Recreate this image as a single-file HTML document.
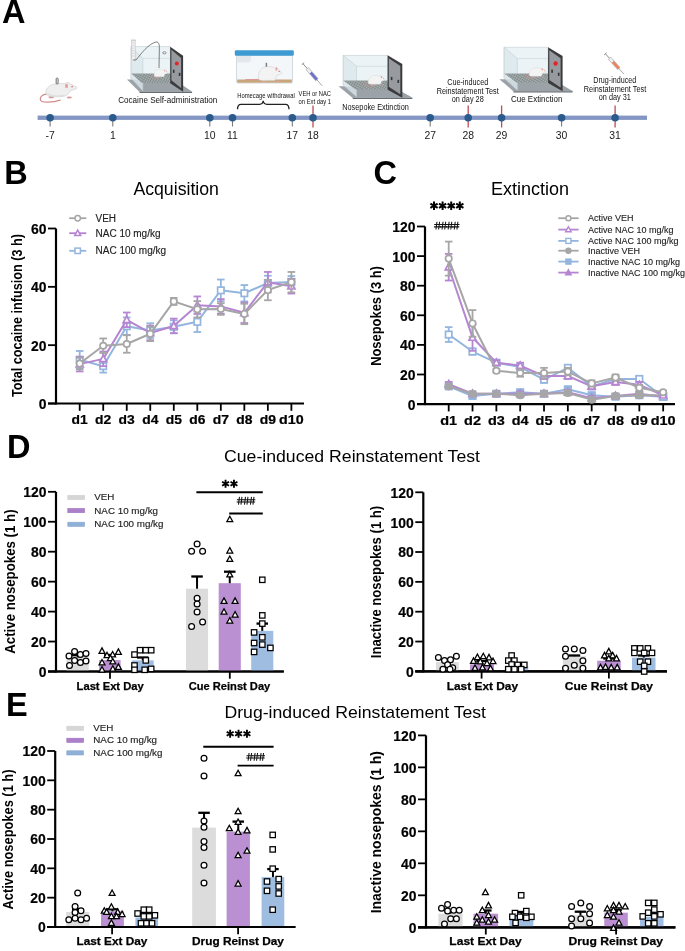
<!DOCTYPE html>
<html><head><meta charset="utf-8"><title>Figure</title>
<style>html,body{margin:0;padding:0;background:#fff;}body{width:685px;height:951px;overflow:hidden;font-family:"Liberation Sans", sans-serif;}svg{display:block;will-change:transform;}</style>
</head><body>
<svg width="685" height="951" viewBox="0 0 685 951" font-family='"Liberation Sans", sans-serif'>
<rect width="685" height="951" fill="#fff"/>
<text x="2.10" y="22.80" font-size="32.5" font-weight="bold" text-anchor="start" fill="#000" >A</text>
<rect x="37.6" y="115.6" width="609.4" height="4.3" fill="#8497c4"/>
<line x1="50.10" y1="118.00" x2="50.10" y2="126.50" stroke="#7a7a7a" stroke-width="1.1" />
<line x1="112.80" y1="118.00" x2="112.80" y2="126.50" stroke="#7a7a7a" stroke-width="1.1" />
<line x1="209.80" y1="118.00" x2="209.80" y2="126.50" stroke="#7a7a7a" stroke-width="1.1" />
<line x1="232.50" y1="118.00" x2="232.50" y2="126.50" stroke="#7a7a7a" stroke-width="1.1" />
<line x1="292.30" y1="118.00" x2="292.30" y2="126.50" stroke="#7a7a7a" stroke-width="1.1" />
<line x1="313.00" y1="105.50" x2="313.00" y2="127.50" stroke="#c24a52" stroke-width="1.3" />
<line x1="430.20" y1="118.00" x2="430.20" y2="126.50" stroke="#7a7a7a" stroke-width="1.1" />
<line x1="468.20" y1="105.50" x2="468.20" y2="127.50" stroke="#c24a52" stroke-width="1.3" />
<line x1="501.60" y1="105.50" x2="501.60" y2="127.50" stroke="#c24a52" stroke-width="1.3" />
<line x1="561.60" y1="118.00" x2="561.60" y2="126.50" stroke="#7a7a7a" stroke-width="1.1" />
<line x1="615.10" y1="105.50" x2="615.10" y2="127.50" stroke="#c24a52" stroke-width="1.3" />
<circle cx="50.10" cy="117.8" r="3.8" fill="#2b5a8c"/>
<text x="50.10" y="139.00" font-size="10.4" font-weight="normal" text-anchor="middle" fill="#1a1a1a" >-7</text>
<circle cx="112.80" cy="117.8" r="3.8" fill="#2b5a8c"/>
<text x="112.80" y="139.00" font-size="10.4" font-weight="normal" text-anchor="middle" fill="#1a1a1a" >1</text>
<circle cx="209.80" cy="117.8" r="3.8" fill="#2b5a8c"/>
<text x="209.80" y="139.00" font-size="10.4" font-weight="normal" text-anchor="middle" fill="#1a1a1a" >10</text>
<circle cx="232.50" cy="117.8" r="3.8" fill="#2b5a8c"/>
<text x="232.50" y="139.00" font-size="10.4" font-weight="normal" text-anchor="middle" fill="#1a1a1a" >11</text>
<circle cx="292.30" cy="117.8" r="3.8" fill="#2b5a8c"/>
<text x="292.30" y="139.00" font-size="10.4" font-weight="normal" text-anchor="middle" fill="#1a1a1a" >17</text>
<circle cx="313.00" cy="117.8" r="3.8" fill="#2b5a8c"/>
<text x="313.00" y="139.00" font-size="10.4" font-weight="normal" text-anchor="middle" fill="#1a1a1a" >18</text>
<circle cx="430.20" cy="117.8" r="3.8" fill="#2b5a8c"/>
<text x="430.20" y="139.00" font-size="10.4" font-weight="normal" text-anchor="middle" fill="#1a1a1a" >27</text>
<circle cx="468.20" cy="117.8" r="3.8" fill="#2b5a8c"/>
<text x="468.20" y="139.00" font-size="10.4" font-weight="normal" text-anchor="middle" fill="#1a1a1a" >28</text>
<circle cx="501.60" cy="117.8" r="3.8" fill="#2b5a8c"/>
<text x="501.60" y="139.00" font-size="10.4" font-weight="normal" text-anchor="middle" fill="#1a1a1a" >29</text>
<circle cx="561.60" cy="117.8" r="3.8" fill="#2b5a8c"/>
<text x="561.60" y="139.00" font-size="10.4" font-weight="normal" text-anchor="middle" fill="#1a1a1a" >30</text>
<circle cx="615.10" cy="117.8" r="3.8" fill="#2b5a8c"/>
<text x="615.10" y="139.00" font-size="10.4" font-weight="normal" text-anchor="middle" fill="#1a1a1a" >31</text>
<defs>
<pattern id="mesh" width="2.2" height="2.2" patternUnits="userSpaceOnUse" patternTransform="rotate(30)">
<rect width="2.2" height="2.2" fill="#838d8d"/>
<path d="M0,0 L2.2,0 M0,0 L0,2.2" stroke="#c9cfcf" stroke-width="0.55"/>
</pattern>
</defs>
<g transform="translate(35.00,70.00) scale(0.0730)">
<path d="M165,330 C100,328 58,375 78,418 C98,452 240,445 345,412" fill="none" stroke="#d48c8c" stroke-width="17" stroke-linecap="round"/>
<ellipse cx="222" cy="372" rx="38" ry="16" fill="#dc9a9a"/>
<ellipse cx="470" cy="376" rx="36" ry="14" fill="#dc9a9a"/>
<path d="M150,305 C148,240 215,195 300,188 C360,184 400,190 420,182 C440,165 470,170 490,195 C520,205 560,222 578,242 C565,262 520,275 480,285 C470,320 440,350 400,360 C330,372 250,370 200,360 C165,350 150,330 150,305 Z" fill="#efefef" stroke="#c9c9c9" stroke-width="8"/>
<path d="M170,320 C200,350 300,360 400,350" fill="none" stroke="#dcdcdc" stroke-width="14"/>
<ellipse cx="432" cy="220" rx="20" ry="30" fill="#e2a0a0"/>
<circle cx="508" cy="228" r="9" fill="#c23b3b"/>
<rect x="290" y="112" width="26" height="78" rx="8" fill="#fff" stroke="#555" stroke-width="12"/>
</g>
<polygon points="127.0,79.5 174.1,79.5 192.3,91.7 139.3,91.7" fill="#9ba2a8"/>
<polygon points="139.3,91.7 192.3,91.7 191.7,93.0 139.7,93.0" fill="#656c72"/>
<rect x="131.1" y="46.7" width="39.1" height="31.5" fill="#e6eff3" fill-opacity="0.75" stroke="#c9d3d8" stroke-width="0.7"/>
<polygon points="131.1,46.7 142.8,58.4 142.8,90.7 131.1,78.2" fill="#dbe7ec" fill-opacity="0.8" stroke="#c3ced4" stroke-width="0.6"/>
<line x1="142.83" y1="58.36" x2="170.20" y2="58.36" stroke="#cdd7dc" stroke-width="0.7" />
<polygon points="131.1,73.5 170.2,73.5 174.9,82.9 142.0,82.9" fill="url(#mesh)"/>
<g transform="translate(146.40,62.90) scale(0.0431,0.0400)">
<path d="M190,300 C120,300 95,360 140,375 C190,390 260,378 310,362" fill="none" stroke="#d88d8d" stroke-width="12" stroke-linecap="round"/>

<ellipse cx="255" cy="358" rx="26" ry="11" fill="#e2a3a3"/>
<ellipse cx="440" cy="360" rx="22" ry="10" fill="#e2a3a3"/>
<path d="M180,320 C175,240 205,175 280,160 C330,150 380,165 410,180 C440,175 470,200 500,245 C480,265 450,270 430,275 C420,300 420,330 400,345 L240,345 C200,345 182,335 180,320 Z" fill="#f3f3f3" stroke="#cdcdcd" stroke-width="7"/>
<ellipse cx="425" cy="190" rx="14" ry="26" fill="#e6a9a9"/>
<circle cx="462" cy="222" r="8" fill="#cc4040"/>

</g>
<polygon points="170.2,46.7 183.1,55.8 183.1,91.7 170.2,83.2" fill="#3b3b3d"/>
<polygon points="171.4,49.7 181.1,58.0 181.1,88.1 171.4,80.2" fill="#979ba0"/>
<circle cx="176.8" cy="63.4" r="2.0" fill="#e0262b"/>
<rect x="172.9" y="69.7" width="1.6" height="3.2" fill="#333"/>
<rect x="178.8" y="72.8" width="1.6" height="3.2" fill="#333"/>
<rect x="131.6" y="40.3" width="3.6" height="19.5" rx="0.8" fill="#f4f4f4" stroke="#b9b9b9" stroke-width="0.6"/>
<line x1="132.2" y1="43.0" x2="134.2" y2="43.0" stroke="#aaa" stroke-width="0.4"/>
<line x1="132.2" y1="45.6" x2="134.2" y2="45.6" stroke="#aaa" stroke-width="0.4"/>
<line x1="132.2" y1="48.2" x2="134.2" y2="48.2" stroke="#aaa" stroke-width="0.4"/>
<line x1="132.2" y1="50.8" x2="134.2" y2="50.8" stroke="#aaa" stroke-width="0.4"/>
<line x1="132.2" y1="53.4" x2="134.2" y2="53.4" stroke="#aaa" stroke-width="0.4"/>
<line x1="132.2" y1="56.0" x2="134.2" y2="56.0" stroke="#aaa" stroke-width="0.4"/>
<rect x="130.9" y="39.6" width="5" height="1.5" fill="#d0d0d0"/>
<path d="M133.5,60 L136,60 C141,54 148,44 156,42 C159.5,41.5 159.5,46 159.3,52 L159,68" fill="none" stroke="#333" stroke-width="0.6"/>
<ellipse cx="164.4" cy="52.8" rx="1.7" ry="1.1" fill="none" stroke="#555" stroke-width="0.6"/>
<text x="118.20" y="102.90" font-size="9" font-weight="normal" text-anchor="start" fill="#111" textLength="99" lengthAdjust="spacingAndGlyphs">Cocaine Self-administration</text>
<rect x="236.5" y="55" width="56" height="28" rx="1.5" fill="#f4f7fa" stroke="#c9d1d8" stroke-width="0.8"/>
<rect x="237.2" y="79.5" width="54.6" height="3.2" fill="#c8a67c"/>
<path d="M236.8,56 L251.5,56 L250.5,61 C250.3,62 249.5,62.4 248.5,62.4 L236.8,62.4 Z" fill="#e3e8ec"/>
<g transform="translate(245.3,54.8) scale(0.0732,0.0744)">
<path d="M190,330 C120,335 60,333 0,334" fill="none" stroke="#d88d8d" stroke-width="12"/>

<ellipse cx="255" cy="358" rx="26" ry="11" fill="#e2a3a3"/>
<ellipse cx="440" cy="360" rx="22" ry="10" fill="#e2a3a3"/>
<path d="M180,320 C175,240 205,175 280,160 C330,150 380,165 410,180 C440,175 470,200 500,245 C480,265 450,270 430,275 C420,300 420,330 400,345 L240,345 C200,345 182,335 180,320 Z" fill="#f3f3f3" stroke="#cdcdcd" stroke-width="7"/>
<ellipse cx="425" cy="190" rx="14" ry="26" fill="#e6a9a9"/>
<circle cx="462" cy="222" r="8" fill="#cc4040"/>

<rect x="278" y="108" width="20" height="52" fill="#7a7a7a"/>
</g>
<rect x="234.8" y="50.2" width="59" height="5.6" rx="1.2" fill="#3e9bd2"/>
<text x="237.30" y="98.20" font-size="7.2" font-weight="normal" text-anchor="start" fill="#111" textLength="57.4" lengthAdjust="spacingAndGlyphs">Homecage withdrawal</text>
<path d="M237.5,109.3 C237.5,105.5 238.5,104.3 241,104.3 L259.5,104.3 C262,104.3 263,103 263.2,100.8 C263.4,103 264.4,104.3 267,104.3 L285.5,104.3 C288,104.3 289,105.5 289,109.3" fill="none" stroke="#222" stroke-width="1.35"/>
<g transform="translate(303.0,63.7) rotate(49.1)"><line x1="0" y1="0" x2="6.5" y2="0" stroke="#888" stroke-width="0.9"/><line x1="0" y1="-1.6" x2="0" y2="1.6" stroke="#888" stroke-width="0.9"/><rect x="6.5" y="-1.6" width="14.7" height="3.2" fill="#eef0f2" stroke="#8a8a8a" stroke-width="0.5"/><rect x="11.7" y="-1.3" width="9.4" height="2.6" fill="#6b6fc9"/><line x1="21.1" y1="0" x2="29.4" y2="0" stroke="#777" stroke-width="0.6"/></g>
<text x="314.80" y="96.00" font-size="7.3" font-weight="normal" text-anchor="middle" fill="#111" textLength="32.4" lengthAdjust="spacingAndGlyphs">VEH or NAC</text>
<text x="314.80" y="103.60" font-size="7.3" font-weight="normal" text-anchor="middle" fill="#111" textLength="32.4" lengthAdjust="spacingAndGlyphs">on Ext day 1</text>
<polygon points="338.5,86.2 392.0,86.2 412.7,97.8 352.5,97.8" fill="#9ba2a8"/>
<polygon points="352.5,97.8 412.7,97.8 412.1,99.1 352.9,99.1" fill="#656c72"/>
<rect x="343.2" y="55.3" width="44.4" height="29.7" fill="#e6eff3" fill-opacity="0.75" stroke="#c9d3d8" stroke-width="0.7"/>
<polygon points="343.2,55.3 356.5,66.3 356.5,96.8 343.2,85.0" fill="#dbe7ec" fill-opacity="0.8" stroke="#c3ced4" stroke-width="0.6"/>
<line x1="356.52" y1="66.29" x2="387.60" y2="66.29" stroke="#cdd7dc" stroke-width="0.7" />
<polygon points="343.2,80.5 387.6,80.5 392.9,89.5 355.6,89.5" fill="url(#mesh)"/>
<g transform="translate(358.40,68.00) scale(0.0542,0.0472)">
<path d="M190,300 C120,300 95,360 140,375 C190,390 260,378 310,362" fill="none" stroke="#d88d8d" stroke-width="12" stroke-linecap="round"/>

<ellipse cx="255" cy="358" rx="26" ry="11" fill="#e2a3a3"/>
<ellipse cx="440" cy="360" rx="22" ry="10" fill="#e2a3a3"/>
<path d="M180,320 C175,240 205,175 280,160 C330,150 380,165 410,180 C440,175 470,200 500,245 C480,265 450,270 430,275 C420,300 420,330 400,345 L240,345 C200,345 182,335 180,320 Z" fill="#f3f3f3" stroke="#cdcdcd" stroke-width="7"/>
<ellipse cx="425" cy="190" rx="14" ry="26" fill="#e6a9a9"/>
<circle cx="462" cy="222" r="8" fill="#cc4040"/>

</g>
<polygon points="387.6,55.3 402.3,63.9 402.3,97.8 387.6,89.8" fill="#3b3b3d"/>
<polygon points="388.8,58.3 400.3,66.1 400.3,94.2 388.8,86.8" fill="#979ba0"/>
<rect x="390.8" y="76.9" width="1.6" height="3.2" fill="#333"/>
<rect x="397.5" y="79.8" width="1.6" height="3.2" fill="#333"/>
<text x="342.30" y="109.70" font-size="9" font-weight="normal" text-anchor="start" fill="#111" textLength="66.5" lengthAdjust="spacingAndGlyphs">Nosepoke Extinction</text>
<text x="467.70" y="85.00" font-size="8.5" font-weight="normal" text-anchor="middle" fill="#111" textLength="41" lengthAdjust="spacingAndGlyphs">Cue-induced</text>
<text x="467.70" y="93.80" font-size="8.5" font-weight="normal" text-anchor="middle" fill="#111" textLength="62" lengthAdjust="spacingAndGlyphs">Reinstatement Test</text>
<text x="467.70" y="102.20" font-size="8.5" font-weight="normal" text-anchor="middle" fill="#111" textLength="32" lengthAdjust="spacingAndGlyphs">on day 28</text>
<polygon points="499.4,79.2 552.5,79.2 573.0,91.2 513.3,91.2" fill="#9ba2a8"/>
<polygon points="513.3,91.2 573.0,91.2 572.4,92.5 513.7,92.5" fill="#656c72"/>
<rect x="504.1" y="47.2" width="44.0" height="30.8" fill="#e6eff3" fill-opacity="0.75" stroke="#c9d3d8" stroke-width="0.7"/>
<polygon points="504.1,47.2 517.3,58.6 517.3,90.2 504.1,78.0" fill="#dbe7ec" fill-opacity="0.8" stroke="#c3ced4" stroke-width="0.6"/>
<line x1="517.30" y1="58.60" x2="548.10" y2="58.60" stroke="#cdd7dc" stroke-width="0.7" />
<polygon points="504.1,73.4 548.1,73.4 553.4,82.6 516.4,82.6" fill="url(#mesh)"/>
<g transform="translate(519.50,60.80) scale(0.0538,0.0450)">
<path d="M190,300 C120,300 95,360 140,375 C190,390 260,378 310,362" fill="none" stroke="#d88d8d" stroke-width="12" stroke-linecap="round"/>

<ellipse cx="255" cy="358" rx="26" ry="11" fill="#e2a3a3"/>
<ellipse cx="440" cy="360" rx="22" ry="10" fill="#e2a3a3"/>
<path d="M180,320 C175,240 205,175 280,160 C330,150 380,165 410,180 C440,175 470,200 500,245 C480,265 450,270 430,275 C420,300 420,330 400,345 L240,345 C200,345 182,335 180,320 Z" fill="#f3f3f3" stroke="#cdcdcd" stroke-width="7"/>
<ellipse cx="425" cy="190" rx="14" ry="26" fill="#e6a9a9"/>
<circle cx="462" cy="222" r="8" fill="#cc4040"/>

</g>
<polygon points="548.1,47.2 562.6,56.1 562.6,91.2 548.1,82.9" fill="#3b3b3d"/>
<polygon points="549.3,50.2 560.6,58.3 560.6,87.6 549.3,79.9" fill="#979ba0"/>
<circle cx="555.6" cy="63.5" r="2.2" fill="#e0262b"/>
<rect x="551.3" y="69.6" width="1.6" height="3.2" fill="#333"/>
<rect x="557.9" y="72.7" width="1.6" height="3.2" fill="#333"/>
<text x="511.00" y="102.40" font-size="9.5" font-weight="normal" text-anchor="start" fill="#111" textLength="51.4" lengthAdjust="spacingAndGlyphs">Cue Extinction</text>
<g transform="translate(605.4,53.8) rotate(47.5)"><line x1="0" y1="0" x2="6.1" y2="0" stroke="#888" stroke-width="0.9"/><line x1="0" y1="-1.6" x2="0" y2="1.6" stroke="#888" stroke-width="0.9"/><rect x="6.1" y="-1.6" width="13.8" height="3.2" fill="#eef0f2" stroke="#8a8a8a" stroke-width="0.5"/><rect x="11.0" y="-1.3" width="8.8" height="2.6" fill="#e9825b"/><line x1="19.8" y1="0" x2="27.5" y2="0" stroke="#777" stroke-width="0.6"/></g>
<text x="614.80" y="83.20" font-size="8.5" font-weight="normal" text-anchor="middle" fill="#111" textLength="43" lengthAdjust="spacingAndGlyphs">Drug-induced</text>
<text x="615.00" y="91.50" font-size="8.5" font-weight="normal" text-anchor="middle" fill="#111" textLength="62.4" lengthAdjust="spacingAndGlyphs">Reinstatement Test</text>
<text x="614.80" y="100.10" font-size="8.5" font-weight="normal" text-anchor="middle" fill="#111" textLength="32" lengthAdjust="spacingAndGlyphs">on day 31</text>
<text x="4.20" y="183.90" font-size="32.5" font-weight="bold" text-anchor="start" fill="#000" >B</text>
<text x="133.40" y="194.80" font-size="17.7" font-weight="normal" text-anchor="start" fill="#000" >Acquisition</text>
<line x1="56.00" y1="228.50" x2="56.00" y2="404.50" stroke="#000" stroke-width="2.2" />
<line x1="48.00" y1="403.50" x2="56.00" y2="403.50" stroke="#000" stroke-width="1.8" />
<text x="46.50" y="408.90" font-size="13.9" font-weight="bold" text-anchor="end" fill="#000" stroke="#000" stroke-width="0.2">0</text>
<line x1="48.00" y1="345.17" x2="56.00" y2="345.17" stroke="#000" stroke-width="1.8" />
<text x="46.50" y="350.57" font-size="13.9" font-weight="bold" text-anchor="end" fill="#000" stroke="#000" stroke-width="0.2">20</text>
<line x1="48.00" y1="286.83" x2="56.00" y2="286.83" stroke="#000" stroke-width="1.8" />
<text x="46.50" y="292.24" font-size="13.9" font-weight="bold" text-anchor="end" fill="#000" stroke="#000" stroke-width="0.2">40</text>
<line x1="48.00" y1="228.50" x2="56.00" y2="228.50" stroke="#000" stroke-width="1.8" />
<text x="46.50" y="233.90" font-size="13.9" font-weight="bold" text-anchor="end" fill="#000" stroke="#000" stroke-width="0.2">60</text>
<line x1="48.00" y1="403.50" x2="304.00" y2="403.50" stroke="#000" stroke-width="2.2" />
<line x1="79.70" y1="403.50" x2="79.70" y2="410.80" stroke="#000" stroke-width="1.8" />
<text x="79.70" y="424.00" font-size="12.2" font-weight="bold" text-anchor="middle" fill="#000" textLength="16.2" lengthAdjust="spacingAndGlyphs" stroke="#000" stroke-width="0.2">d1</text>
<line x1="103.22" y1="403.50" x2="103.22" y2="410.80" stroke="#000" stroke-width="1.8" />
<text x="103.22" y="424.00" font-size="12.2" font-weight="bold" text-anchor="middle" fill="#000" textLength="16.2" lengthAdjust="spacingAndGlyphs" stroke="#000" stroke-width="0.2">d2</text>
<line x1="126.74" y1="403.50" x2="126.74" y2="410.80" stroke="#000" stroke-width="1.8" />
<text x="126.74" y="424.00" font-size="12.2" font-weight="bold" text-anchor="middle" fill="#000" textLength="16.2" lengthAdjust="spacingAndGlyphs" stroke="#000" stroke-width="0.2">d3</text>
<line x1="150.26" y1="403.50" x2="150.26" y2="410.80" stroke="#000" stroke-width="1.8" />
<text x="150.26" y="424.00" font-size="12.2" font-weight="bold" text-anchor="middle" fill="#000" textLength="16.2" lengthAdjust="spacingAndGlyphs" stroke="#000" stroke-width="0.2">d4</text>
<line x1="173.78" y1="403.50" x2="173.78" y2="410.80" stroke="#000" stroke-width="1.8" />
<text x="173.78" y="424.00" font-size="12.2" font-weight="bold" text-anchor="middle" fill="#000" textLength="16.2" lengthAdjust="spacingAndGlyphs" stroke="#000" stroke-width="0.2">d5</text>
<line x1="197.30" y1="403.50" x2="197.30" y2="410.80" stroke="#000" stroke-width="1.8" />
<text x="197.30" y="424.00" font-size="12.2" font-weight="bold" text-anchor="middle" fill="#000" textLength="16.2" lengthAdjust="spacingAndGlyphs" stroke="#000" stroke-width="0.2">d6</text>
<line x1="220.82" y1="403.50" x2="220.82" y2="410.80" stroke="#000" stroke-width="1.8" />
<text x="220.82" y="424.00" font-size="12.2" font-weight="bold" text-anchor="middle" fill="#000" textLength="16.2" lengthAdjust="spacingAndGlyphs" stroke="#000" stroke-width="0.2">d7</text>
<line x1="244.34" y1="403.50" x2="244.34" y2="410.80" stroke="#000" stroke-width="1.8" />
<text x="244.34" y="424.00" font-size="12.2" font-weight="bold" text-anchor="middle" fill="#000" textLength="16.2" lengthAdjust="spacingAndGlyphs" stroke="#000" stroke-width="0.2">d8</text>
<line x1="267.86" y1="403.50" x2="267.86" y2="410.80" stroke="#000" stroke-width="1.8" />
<text x="267.86" y="424.00" font-size="12.2" font-weight="bold" text-anchor="middle" fill="#000" textLength="16.2" lengthAdjust="spacingAndGlyphs" stroke="#000" stroke-width="0.2">d9</text>
<line x1="291.38" y1="403.50" x2="291.38" y2="410.80" stroke="#000" stroke-width="1.8" />
<text x="291.38" y="424.00" font-size="12.2" font-weight="bold" text-anchor="middle" fill="#000" textLength="24.6" lengthAdjust="spacingAndGlyphs" stroke="#000" stroke-width="0.2">d10</text>
<text x="0.00" y="0.00" font-size="14.9" font-weight="bold" text-anchor="middle" fill="#000" transform="translate(22.1,315.5) rotate(-90)" textLength="163" lengthAdjust="spacingAndGlyphs">Total cocaine infusion (3 h)</text>
<line x1="79.70" y1="351.00" x2="79.70" y2="368.50" stroke="#93b5de" stroke-width="1.8" />
<line x1="75.90" y1="351.00" x2="83.50" y2="351.00" stroke="#93b5de" stroke-width="1.8" />
<line x1="75.90" y1="368.50" x2="83.50" y2="368.50" stroke="#93b5de" stroke-width="1.8" />
<line x1="103.22" y1="359.75" x2="103.22" y2="372.58" stroke="#93b5de" stroke-width="1.8" />
<line x1="99.42" y1="359.75" x2="107.02" y2="359.75" stroke="#93b5de" stroke-width="1.8" />
<line x1="99.42" y1="372.58" x2="107.02" y2="372.58" stroke="#93b5de" stroke-width="1.8" />
<line x1="126.74" y1="317.46" x2="126.74" y2="334.96" stroke="#93b5de" stroke-width="1.8" />
<line x1="122.94" y1="317.46" x2="130.54" y2="317.46" stroke="#93b5de" stroke-width="1.8" />
<line x1="122.94" y1="334.96" x2="130.54" y2="334.96" stroke="#93b5de" stroke-width="1.8" />
<line x1="150.26" y1="323.29" x2="150.26" y2="337.88" stroke="#93b5de" stroke-width="1.8" />
<line x1="146.46" y1="323.29" x2="154.06" y2="323.29" stroke="#93b5de" stroke-width="1.8" />
<line x1="146.46" y1="337.88" x2="154.06" y2="337.88" stroke="#93b5de" stroke-width="1.8" />
<line x1="173.78" y1="320.38" x2="173.78" y2="333.21" stroke="#93b5de" stroke-width="1.8" />
<line x1="169.98" y1="320.38" x2="177.58" y2="320.38" stroke="#93b5de" stroke-width="1.8" />
<line x1="169.98" y1="333.21" x2="177.58" y2="333.21" stroke="#93b5de" stroke-width="1.8" />
<line x1="197.30" y1="311.63" x2="197.30" y2="332.04" stroke="#93b5de" stroke-width="1.8" />
<line x1="193.50" y1="311.63" x2="201.10" y2="311.63" stroke="#93b5de" stroke-width="1.8" />
<line x1="193.50" y1="332.04" x2="201.10" y2="332.04" stroke="#93b5de" stroke-width="1.8" />
<line x1="220.82" y1="279.54" x2="220.82" y2="301.13" stroke="#93b5de" stroke-width="1.8" />
<line x1="217.02" y1="279.54" x2="224.62" y2="279.54" stroke="#93b5de" stroke-width="1.8" />
<line x1="217.02" y1="301.13" x2="224.62" y2="301.13" stroke="#93b5de" stroke-width="1.8" />
<line x1="244.34" y1="285.08" x2="244.34" y2="301.42" stroke="#93b5de" stroke-width="1.8" />
<line x1="240.54" y1="285.08" x2="248.14" y2="285.08" stroke="#93b5de" stroke-width="1.8" />
<line x1="240.54" y1="301.42" x2="248.14" y2="301.42" stroke="#93b5de" stroke-width="1.8" />
<line x1="267.86" y1="275.75" x2="267.86" y2="290.33" stroke="#93b5de" stroke-width="1.8" />
<line x1="264.06" y1="275.75" x2="271.66" y2="275.75" stroke="#93b5de" stroke-width="1.8" />
<line x1="264.06" y1="290.33" x2="271.66" y2="290.33" stroke="#93b5de" stroke-width="1.8" />
<line x1="291.38" y1="276.04" x2="291.38" y2="287.71" stroke="#93b5de" stroke-width="1.8" />
<line x1="287.58" y1="276.04" x2="295.18" y2="276.04" stroke="#93b5de" stroke-width="1.8" />
<line x1="287.58" y1="287.71" x2="295.18" y2="287.71" stroke="#93b5de" stroke-width="1.8" />
<polyline points="79.70,359.75 103.22,366.17 126.74,326.21 150.26,330.58 173.78,326.79 197.30,321.83 220.82,290.33 244.34,293.25 267.86,283.04 291.38,281.88" fill="none" stroke="#93b5de" stroke-width="2.0" stroke-linejoin="round"/>
<rect x="76.50" y="356.55" width="6.40" height="6.40" fill="#fff" stroke="#93b5de" stroke-width="1.7"/>
<rect x="100.02" y="362.97" width="6.40" height="6.40" fill="#fff" stroke="#93b5de" stroke-width="1.7"/>
<rect x="123.54" y="323.01" width="6.40" height="6.40" fill="#fff" stroke="#93b5de" stroke-width="1.7"/>
<rect x="147.06" y="327.38" width="6.40" height="6.40" fill="#fff" stroke="#93b5de" stroke-width="1.7"/>
<rect x="170.58" y="323.59" width="6.40" height="6.40" fill="#fff" stroke="#93b5de" stroke-width="1.7"/>
<rect x="194.10" y="318.63" width="6.40" height="6.40" fill="#fff" stroke="#93b5de" stroke-width="1.7"/>
<rect x="217.62" y="287.13" width="6.40" height="6.40" fill="#fff" stroke="#93b5de" stroke-width="1.7"/>
<rect x="241.14" y="290.05" width="6.40" height="6.40" fill="#fff" stroke="#93b5de" stroke-width="1.7"/>
<rect x="264.66" y="279.84" width="6.40" height="6.40" fill="#fff" stroke="#93b5de" stroke-width="1.7"/>
<rect x="288.18" y="278.68" width="6.40" height="6.40" fill="#fff" stroke="#93b5de" stroke-width="1.7"/>
<line x1="79.70" y1="356.83" x2="79.70" y2="371.42" stroke="#b585d2" stroke-width="1.8" />
<line x1="75.90" y1="356.83" x2="83.50" y2="356.83" stroke="#b585d2" stroke-width="1.8" />
<line x1="75.90" y1="371.42" x2="83.50" y2="371.42" stroke="#b585d2" stroke-width="1.8" />
<line x1="103.22" y1="351.58" x2="103.22" y2="366.17" stroke="#b585d2" stroke-width="1.8" />
<line x1="99.42" y1="351.58" x2="107.02" y2="351.58" stroke="#b585d2" stroke-width="1.8" />
<line x1="99.42" y1="366.17" x2="107.02" y2="366.17" stroke="#b585d2" stroke-width="1.8" />
<line x1="126.74" y1="312.50" x2="126.74" y2="327.08" stroke="#b585d2" stroke-width="1.8" />
<line x1="122.94" y1="312.50" x2="130.54" y2="312.50" stroke="#b585d2" stroke-width="1.8" />
<line x1="122.94" y1="327.08" x2="130.54" y2="327.08" stroke="#b585d2" stroke-width="1.8" />
<line x1="150.26" y1="325.62" x2="150.26" y2="340.21" stroke="#b585d2" stroke-width="1.8" />
<line x1="146.46" y1="325.62" x2="154.06" y2="325.62" stroke="#b585d2" stroke-width="1.8" />
<line x1="146.46" y1="340.21" x2="154.06" y2="340.21" stroke="#b585d2" stroke-width="1.8" />
<line x1="173.78" y1="318.62" x2="173.78" y2="333.21" stroke="#b585d2" stroke-width="1.8" />
<line x1="169.98" y1="318.62" x2="177.58" y2="318.62" stroke="#b585d2" stroke-width="1.8" />
<line x1="169.98" y1="333.21" x2="177.58" y2="333.21" stroke="#b585d2" stroke-width="1.8" />
<line x1="197.30" y1="296.46" x2="197.30" y2="313.96" stroke="#b585d2" stroke-width="1.8" />
<line x1="193.50" y1="296.46" x2="201.10" y2="296.46" stroke="#b585d2" stroke-width="1.8" />
<line x1="193.50" y1="313.96" x2="201.10" y2="313.96" stroke="#b585d2" stroke-width="1.8" />
<line x1="220.82" y1="299.08" x2="220.82" y2="313.67" stroke="#b585d2" stroke-width="1.8" />
<line x1="217.02" y1="299.08" x2="224.62" y2="299.08" stroke="#b585d2" stroke-width="1.8" />
<line x1="217.02" y1="313.67" x2="224.62" y2="313.67" stroke="#b585d2" stroke-width="1.8" />
<line x1="244.34" y1="302.58" x2="244.34" y2="323.00" stroke="#b585d2" stroke-width="1.8" />
<line x1="240.54" y1="302.58" x2="248.14" y2="302.58" stroke="#b585d2" stroke-width="1.8" />
<line x1="240.54" y1="323.00" x2="248.14" y2="323.00" stroke="#b585d2" stroke-width="1.8" />
<line x1="267.86" y1="271.96" x2="267.86" y2="292.38" stroke="#b585d2" stroke-width="1.8" />
<line x1="264.06" y1="271.96" x2="271.66" y2="271.96" stroke="#b585d2" stroke-width="1.8" />
<line x1="264.06" y1="292.38" x2="271.66" y2="292.38" stroke="#b585d2" stroke-width="1.8" />
<line x1="291.38" y1="278.96" x2="291.38" y2="293.54" stroke="#b585d2" stroke-width="1.8" />
<line x1="287.58" y1="278.96" x2="295.18" y2="278.96" stroke="#b585d2" stroke-width="1.8" />
<line x1="287.58" y1="293.54" x2="295.18" y2="293.54" stroke="#b585d2" stroke-width="1.8" />
<polyline points="79.70,364.12 103.22,358.88 126.74,319.79 150.26,332.92 173.78,325.92 197.30,305.21 220.82,306.38 244.34,312.79 267.86,282.17 291.38,286.25" fill="none" stroke="#b585d2" stroke-width="2.0" stroke-linejoin="round"/>
<polygon points="79.70,360.44 83.22,366.88 76.18,366.88" fill="#fff" stroke="#b585d2" stroke-width="1.7" stroke-linejoin="miter"/>
<polygon points="103.22,355.19 106.74,361.63 99.70,361.63" fill="#fff" stroke="#b585d2" stroke-width="1.7" stroke-linejoin="miter"/>
<polygon points="126.74,316.11 130.26,322.55 123.22,322.55" fill="#fff" stroke="#b585d2" stroke-width="1.7" stroke-linejoin="miter"/>
<polygon points="150.26,329.24 153.78,335.68 146.74,335.68" fill="#fff" stroke="#b585d2" stroke-width="1.7" stroke-linejoin="miter"/>
<polygon points="173.78,322.24 177.30,328.68 170.26,328.68" fill="#fff" stroke="#b585d2" stroke-width="1.7" stroke-linejoin="miter"/>
<polygon points="197.30,301.53 200.82,307.97 193.78,307.97" fill="#fff" stroke="#b585d2" stroke-width="1.7" stroke-linejoin="miter"/>
<polygon points="220.82,302.69 224.34,309.13 217.30,309.13" fill="#fff" stroke="#b585d2" stroke-width="1.7" stroke-linejoin="miter"/>
<polygon points="244.34,309.11 247.86,315.55 240.82,315.55" fill="#fff" stroke="#b585d2" stroke-width="1.7" stroke-linejoin="miter"/>
<polygon points="267.86,278.49 271.38,284.93 264.34,284.93" fill="#fff" stroke="#b585d2" stroke-width="1.7" stroke-linejoin="miter"/>
<polygon points="291.38,282.57 294.90,289.01 287.86,289.01" fill="#fff" stroke="#b585d2" stroke-width="1.7" stroke-linejoin="miter"/>
<line x1="79.70" y1="357.71" x2="79.70" y2="369.38" stroke="#a6a6a6" stroke-width="1.8" />
<line x1="75.90" y1="357.71" x2="83.50" y2="357.71" stroke="#a6a6a6" stroke-width="1.8" />
<line x1="75.90" y1="369.38" x2="83.50" y2="369.38" stroke="#a6a6a6" stroke-width="1.8" />
<line x1="103.22" y1="338.46" x2="103.22" y2="353.04" stroke="#a6a6a6" stroke-width="1.8" />
<line x1="99.42" y1="338.46" x2="107.02" y2="338.46" stroke="#a6a6a6" stroke-width="1.8" />
<line x1="99.42" y1="353.04" x2="107.02" y2="353.04" stroke="#a6a6a6" stroke-width="1.8" />
<line x1="126.74" y1="335.25" x2="126.74" y2="352.75" stroke="#a6a6a6" stroke-width="1.8" />
<line x1="122.94" y1="335.25" x2="130.54" y2="335.25" stroke="#a6a6a6" stroke-width="1.8" />
<line x1="122.94" y1="352.75" x2="130.54" y2="352.75" stroke="#a6a6a6" stroke-width="1.8" />
<line x1="150.26" y1="326.50" x2="150.26" y2="341.08" stroke="#a6a6a6" stroke-width="1.8" />
<line x1="146.46" y1="326.50" x2="154.06" y2="326.50" stroke="#a6a6a6" stroke-width="1.8" />
<line x1="146.46" y1="341.08" x2="154.06" y2="341.08" stroke="#a6a6a6" stroke-width="1.8" />
<line x1="173.78" y1="297.92" x2="173.78" y2="304.92" stroke="#a6a6a6" stroke-width="1.8" />
<line x1="169.98" y1="297.92" x2="177.58" y2="297.92" stroke="#a6a6a6" stroke-width="1.8" />
<line x1="169.98" y1="304.92" x2="177.58" y2="304.92" stroke="#a6a6a6" stroke-width="1.8" />
<line x1="197.30" y1="301.12" x2="197.30" y2="317.46" stroke="#a6a6a6" stroke-width="1.8" />
<line x1="193.50" y1="301.12" x2="201.10" y2="301.12" stroke="#a6a6a6" stroke-width="1.8" />
<line x1="193.50" y1="317.46" x2="201.10" y2="317.46" stroke="#a6a6a6" stroke-width="1.8" />
<line x1="220.82" y1="303.17" x2="220.82" y2="314.83" stroke="#a6a6a6" stroke-width="1.8" />
<line x1="217.02" y1="303.17" x2="224.62" y2="303.17" stroke="#a6a6a6" stroke-width="1.8" />
<line x1="217.02" y1="314.83" x2="224.62" y2="314.83" stroke="#a6a6a6" stroke-width="1.8" />
<line x1="244.34" y1="303.75" x2="244.34" y2="324.17" stroke="#a6a6a6" stroke-width="1.8" />
<line x1="240.54" y1="303.75" x2="248.14" y2="303.75" stroke="#a6a6a6" stroke-width="1.8" />
<line x1="240.54" y1="324.17" x2="248.14" y2="324.17" stroke="#a6a6a6" stroke-width="1.8" />
<line x1="267.86" y1="279.83" x2="267.86" y2="300.25" stroke="#a6a6a6" stroke-width="1.8" />
<line x1="264.06" y1="279.83" x2="271.66" y2="279.83" stroke="#a6a6a6" stroke-width="1.8" />
<line x1="264.06" y1="300.25" x2="271.66" y2="300.25" stroke="#a6a6a6" stroke-width="1.8" />
<line x1="291.38" y1="271.96" x2="291.38" y2="292.38" stroke="#a6a6a6" stroke-width="1.8" />
<line x1="287.58" y1="271.96" x2="295.18" y2="271.96" stroke="#a6a6a6" stroke-width="1.8" />
<line x1="287.58" y1="292.38" x2="295.18" y2="292.38" stroke="#a6a6a6" stroke-width="1.8" />
<polyline points="79.70,363.54 103.22,345.75 126.74,344.00 150.26,333.79 173.78,301.42 197.30,309.29 220.82,309.00 244.34,313.96 267.86,290.04 291.38,282.17" fill="none" stroke="#a6a6a6" stroke-width="2.0" stroke-linejoin="round"/>
<circle cx="79.70" cy="363.54" r="3.20" fill="#fff" stroke="#a6a6a6" stroke-width="1.7"/>
<circle cx="103.22" cy="345.75" r="3.20" fill="#fff" stroke="#a6a6a6" stroke-width="1.7"/>
<circle cx="126.74" cy="344.00" r="3.20" fill="#fff" stroke="#a6a6a6" stroke-width="1.7"/>
<circle cx="150.26" cy="333.79" r="3.20" fill="#fff" stroke="#a6a6a6" stroke-width="1.7"/>
<circle cx="173.78" cy="301.42" r="3.20" fill="#fff" stroke="#a6a6a6" stroke-width="1.7"/>
<circle cx="197.30" cy="309.29" r="3.20" fill="#fff" stroke="#a6a6a6" stroke-width="1.7"/>
<circle cx="220.82" cy="309.00" r="3.20" fill="#fff" stroke="#a6a6a6" stroke-width="1.7"/>
<circle cx="244.34" cy="313.96" r="3.20" fill="#fff" stroke="#a6a6a6" stroke-width="1.7"/>
<circle cx="267.86" cy="290.04" r="3.20" fill="#fff" stroke="#a6a6a6" stroke-width="1.7"/>
<circle cx="291.38" cy="282.17" r="3.20" fill="#fff" stroke="#a6a6a6" stroke-width="1.7"/>
<line x1="69.20" y1="218.20" x2="86.30" y2="218.20" stroke="#a6a6a6" stroke-width="1.8" />
<circle cx="77.70" cy="218.20" r="2.70" fill="#fff" stroke="#a6a6a6" stroke-width="1.5"/>
<text x="95.50" y="221.80" font-size="10" font-weight="normal" text-anchor="start" fill="#1e1e1e" stroke="#1e1e1e" stroke-width="0.15">VEH</text>
<line x1="69.20" y1="233.20" x2="86.30" y2="233.20" stroke="#b585d2" stroke-width="1.8" />
<polygon points="77.70,230.09 80.67,235.53 74.73,235.53" fill="#fff" stroke="#b585d2" stroke-width="1.5" stroke-linejoin="miter"/>
<text x="95.50" y="236.80" font-size="10" font-weight="normal" text-anchor="start" fill="#1e1e1e" stroke="#1e1e1e" stroke-width="0.15">NAC 10 mg/kg</text>
<line x1="69.20" y1="250.80" x2="86.30" y2="250.80" stroke="#93b5de" stroke-width="1.8" />
<rect x="75.00" y="248.10" width="5.40" height="5.40" fill="#fff" stroke="#93b5de" stroke-width="1.5"/>
<text x="95.50" y="254.40" font-size="10" font-weight="normal" text-anchor="start" fill="#1e1e1e" stroke="#1e1e1e" stroke-width="0.15">NAC 100 mg/kg</text>
<text x="373.50" y="183.50" font-size="32.5" font-weight="bold" text-anchor="start" fill="#000" >C</text>
<text x="491.00" y="194.70" font-size="18" font-weight="normal" text-anchor="start" fill="#000" >Extinction</text>
<line x1="425.00" y1="226.50" x2="425.00" y2="405.10" stroke="#000" stroke-width="2.2" />
<line x1="417.00" y1="404.10" x2="425.00" y2="404.10" stroke="#000" stroke-width="1.8" />
<text x="415.50" y="409.50" font-size="13.9" font-weight="bold" text-anchor="end" fill="#000" stroke="#000" stroke-width="0.2">0</text>
<line x1="417.00" y1="374.50" x2="425.00" y2="374.50" stroke="#000" stroke-width="1.8" />
<text x="415.50" y="379.90" font-size="13.9" font-weight="bold" text-anchor="end" fill="#000" stroke="#000" stroke-width="0.2">20</text>
<line x1="417.00" y1="344.90" x2="425.00" y2="344.90" stroke="#000" stroke-width="1.8" />
<text x="415.50" y="350.30" font-size="13.9" font-weight="bold" text-anchor="end" fill="#000" stroke="#000" stroke-width="0.2">40</text>
<line x1="417.00" y1="315.30" x2="425.00" y2="315.30" stroke="#000" stroke-width="1.8" />
<text x="415.50" y="320.70" font-size="13.9" font-weight="bold" text-anchor="end" fill="#000" stroke="#000" stroke-width="0.2">60</text>
<line x1="417.00" y1="285.70" x2="425.00" y2="285.70" stroke="#000" stroke-width="1.8" />
<text x="415.50" y="291.10" font-size="13.9" font-weight="bold" text-anchor="end" fill="#000" stroke="#000" stroke-width="0.2">80</text>
<line x1="417.00" y1="256.10" x2="425.00" y2="256.10" stroke="#000" stroke-width="1.8" />
<text x="415.50" y="261.50" font-size="13.9" font-weight="bold" text-anchor="end" fill="#000" stroke="#000" stroke-width="0.2">100</text>
<line x1="417.00" y1="226.50" x2="425.00" y2="226.50" stroke="#000" stroke-width="1.8" />
<text x="415.50" y="231.90" font-size="13.9" font-weight="bold" text-anchor="end" fill="#000" stroke="#000" stroke-width="0.2">120</text>
<line x1="417.00" y1="404.10" x2="675.00" y2="404.10" stroke="#000" stroke-width="2.2" />
<line x1="448.70" y1="404.10" x2="448.70" y2="411.40" stroke="#000" stroke-width="1.8" />
<text x="448.70" y="425.00" font-size="12.6" font-weight="bold" text-anchor="middle" fill="#000" textLength="16.9" lengthAdjust="spacingAndGlyphs" stroke="#000" stroke-width="0.2">d1</text>
<line x1="472.53" y1="404.10" x2="472.53" y2="411.40" stroke="#000" stroke-width="1.8" />
<text x="472.53" y="425.00" font-size="12.6" font-weight="bold" text-anchor="middle" fill="#000" textLength="16.9" lengthAdjust="spacingAndGlyphs" stroke="#000" stroke-width="0.2">d2</text>
<line x1="496.36" y1="404.10" x2="496.36" y2="411.40" stroke="#000" stroke-width="1.8" />
<text x="496.36" y="425.00" font-size="12.6" font-weight="bold" text-anchor="middle" fill="#000" textLength="16.9" lengthAdjust="spacingAndGlyphs" stroke="#000" stroke-width="0.2">d3</text>
<line x1="520.19" y1="404.10" x2="520.19" y2="411.40" stroke="#000" stroke-width="1.8" />
<text x="520.19" y="425.00" font-size="12.6" font-weight="bold" text-anchor="middle" fill="#000" textLength="16.9" lengthAdjust="spacingAndGlyphs" stroke="#000" stroke-width="0.2">d4</text>
<line x1="544.02" y1="404.10" x2="544.02" y2="411.40" stroke="#000" stroke-width="1.8" />
<text x="544.02" y="425.00" font-size="12.6" font-weight="bold" text-anchor="middle" fill="#000" textLength="16.9" lengthAdjust="spacingAndGlyphs" stroke="#000" stroke-width="0.2">d5</text>
<line x1="567.85" y1="404.10" x2="567.85" y2="411.40" stroke="#000" stroke-width="1.8" />
<text x="567.85" y="425.00" font-size="12.6" font-weight="bold" text-anchor="middle" fill="#000" textLength="16.9" lengthAdjust="spacingAndGlyphs" stroke="#000" stroke-width="0.2">d6</text>
<line x1="591.68" y1="404.10" x2="591.68" y2="411.40" stroke="#000" stroke-width="1.8" />
<text x="591.68" y="425.00" font-size="12.6" font-weight="bold" text-anchor="middle" fill="#000" textLength="16.9" lengthAdjust="spacingAndGlyphs" stroke="#000" stroke-width="0.2">d7</text>
<line x1="615.51" y1="404.10" x2="615.51" y2="411.40" stroke="#000" stroke-width="1.8" />
<text x="615.51" y="425.00" font-size="12.6" font-weight="bold" text-anchor="middle" fill="#000" textLength="16.9" lengthAdjust="spacingAndGlyphs" stroke="#000" stroke-width="0.2">d8</text>
<line x1="639.34" y1="404.10" x2="639.34" y2="411.40" stroke="#000" stroke-width="1.8" />
<text x="639.34" y="425.00" font-size="12.6" font-weight="bold" text-anchor="middle" fill="#000" textLength="16.9" lengthAdjust="spacingAndGlyphs" stroke="#000" stroke-width="0.2">d9</text>
<line x1="663.17" y1="404.10" x2="663.17" y2="411.40" stroke="#000" stroke-width="1.8" />
<text x="663.17" y="425.00" font-size="12.6" font-weight="bold" text-anchor="middle" fill="#000" textLength="25.0" lengthAdjust="spacingAndGlyphs" stroke="#000" stroke-width="0.2">d10</text>
<text x="0.00" y="0.00" font-size="14.5" font-weight="bold" text-anchor="middle" fill="#000" transform="translate(380.8,316) rotate(-90)" textLength="99.7" lengthAdjust="spacingAndGlyphs">Nosepokes (3 h)</text>
<path d="M434.00,210.00 L434.00,201.60 M430.36,207.90 L437.64,203.70 M437.64,207.90 L430.36,203.70 " stroke="#000" stroke-width="2.0" stroke-linecap="butt" fill="none"/>
<path d="M442.60,210.00 L442.60,201.60 M438.96,207.90 L446.24,203.70 M446.24,207.90 L438.96,203.70 " stroke="#000" stroke-width="2.0" stroke-linecap="butt" fill="none"/>
<path d="M451.20,210.00 L451.20,201.60 M447.56,207.90 L454.84,203.70 M454.84,207.90 L447.56,203.70 " stroke="#000" stroke-width="2.0" stroke-linecap="butt" fill="none"/>
<path d="M459.80,210.00 L459.80,201.60 M456.16,207.90 L463.44,203.70 M463.44,207.90 L456.16,203.70 " stroke="#000" stroke-width="2.0" stroke-linecap="butt" fill="none"/>
<path d="M434.20,224.51 L441.20,224.51 M433.90,226.85 L440.90,226.85 M436.94,221.70 L435.94,229.50 M439.60,221.70 L438.60,229.50 " stroke="#111" stroke-width="1.05" fill="none"/>
<path d="M440.30,224.51 L447.30,224.51 M440.00,226.85 L447.00,226.85 M443.04,221.70 L442.04,229.50 M445.70,221.70 L444.70,229.50 " stroke="#111" stroke-width="1.05" fill="none"/>
<path d="M446.40,224.51 L453.40,224.51 M446.10,226.85 L453.10,226.85 M449.14,221.70 L448.14,229.50 M451.80,221.70 L450.80,229.50 " stroke="#111" stroke-width="1.05" fill="none"/>
<path d="M452.50,224.51 L459.50,224.51 M452.20,226.85 L459.20,226.85 M455.24,221.70 L454.24,229.50 M457.90,221.70 L456.90,229.50 " stroke="#111" stroke-width="1.05" fill="none"/>
<line x1="448.70" y1="384.12" x2="448.70" y2="388.56" stroke="#93b5de" stroke-width="1.8" />
<line x1="444.90" y1="384.12" x2="452.50" y2="384.12" stroke="#93b5de" stroke-width="1.8" />
<line x1="444.90" y1="388.56" x2="452.50" y2="388.56" stroke="#93b5de" stroke-width="1.8" />
<line x1="472.53" y1="393.74" x2="472.53" y2="398.18" stroke="#93b5de" stroke-width="1.8" />
<line x1="468.73" y1="393.74" x2="476.33" y2="393.74" stroke="#93b5de" stroke-width="1.8" />
<line x1="468.73" y1="398.18" x2="476.33" y2="398.18" stroke="#93b5de" stroke-width="1.8" />
<line x1="496.36" y1="391.52" x2="496.36" y2="395.96" stroke="#93b5de" stroke-width="1.8" />
<line x1="492.56" y1="391.52" x2="500.16" y2="391.52" stroke="#93b5de" stroke-width="1.8" />
<line x1="492.56" y1="395.96" x2="500.16" y2="395.96" stroke="#93b5de" stroke-width="1.8" />
<line x1="520.19" y1="390.04" x2="520.19" y2="394.48" stroke="#93b5de" stroke-width="1.8" />
<line x1="516.39" y1="390.04" x2="523.99" y2="390.04" stroke="#93b5de" stroke-width="1.8" />
<line x1="516.39" y1="394.48" x2="523.99" y2="394.48" stroke="#93b5de" stroke-width="1.8" />
<line x1="544.02" y1="391.52" x2="544.02" y2="395.96" stroke="#93b5de" stroke-width="1.8" />
<line x1="540.22" y1="391.52" x2="547.82" y2="391.52" stroke="#93b5de" stroke-width="1.8" />
<line x1="540.22" y1="395.96" x2="547.82" y2="395.96" stroke="#93b5de" stroke-width="1.8" />
<line x1="567.85" y1="387.08" x2="567.85" y2="391.52" stroke="#93b5de" stroke-width="1.8" />
<line x1="564.05" y1="387.08" x2="571.65" y2="387.08" stroke="#93b5de" stroke-width="1.8" />
<line x1="564.05" y1="391.52" x2="571.65" y2="391.52" stroke="#93b5de" stroke-width="1.8" />
<line x1="591.68" y1="393.00" x2="591.68" y2="397.44" stroke="#93b5de" stroke-width="1.8" />
<line x1="587.88" y1="393.00" x2="595.48" y2="393.00" stroke="#93b5de" stroke-width="1.8" />
<line x1="587.88" y1="397.44" x2="595.48" y2="397.44" stroke="#93b5de" stroke-width="1.8" />
<line x1="615.51" y1="394.48" x2="615.51" y2="398.92" stroke="#93b5de" stroke-width="1.8" />
<line x1="611.71" y1="394.48" x2="619.31" y2="394.48" stroke="#93b5de" stroke-width="1.8" />
<line x1="611.71" y1="398.92" x2="619.31" y2="398.92" stroke="#93b5de" stroke-width="1.8" />
<line x1="639.34" y1="393.00" x2="639.34" y2="397.44" stroke="#93b5de" stroke-width="1.8" />
<line x1="635.54" y1="393.00" x2="643.14" y2="393.00" stroke="#93b5de" stroke-width="1.8" />
<line x1="635.54" y1="397.44" x2="643.14" y2="397.44" stroke="#93b5de" stroke-width="1.8" />
<line x1="663.17" y1="394.48" x2="663.17" y2="398.92" stroke="#93b5de" stroke-width="1.8" />
<line x1="659.37" y1="394.48" x2="666.97" y2="394.48" stroke="#93b5de" stroke-width="1.8" />
<line x1="659.37" y1="398.92" x2="666.97" y2="398.92" stroke="#93b5de" stroke-width="1.8" />
<polyline points="448.70,386.34 472.53,395.96 496.36,393.74 520.19,392.26 544.02,393.74 567.85,389.30 591.68,395.22 615.51,396.70 639.34,395.22 663.17,396.70" fill="none" stroke="#93b5de" stroke-width="2.0" stroke-linejoin="round"/>
<rect x="445.50" y="383.14" width="6.40" height="6.40" fill="#93b5de" stroke="#93b5de" stroke-width="1.7"/>
<rect x="469.33" y="392.76" width="6.40" height="6.40" fill="#93b5de" stroke="#93b5de" stroke-width="1.7"/>
<rect x="493.16" y="390.54" width="6.40" height="6.40" fill="#93b5de" stroke="#93b5de" stroke-width="1.7"/>
<rect x="516.99" y="389.06" width="6.40" height="6.40" fill="#93b5de" stroke="#93b5de" stroke-width="1.7"/>
<rect x="540.82" y="390.54" width="6.40" height="6.40" fill="#93b5de" stroke="#93b5de" stroke-width="1.7"/>
<rect x="564.65" y="386.10" width="6.40" height="6.40" fill="#93b5de" stroke="#93b5de" stroke-width="1.7"/>
<rect x="588.48" y="392.02" width="6.40" height="6.40" fill="#93b5de" stroke="#93b5de" stroke-width="1.7"/>
<rect x="612.31" y="393.50" width="6.40" height="6.40" fill="#93b5de" stroke="#93b5de" stroke-width="1.7"/>
<rect x="636.14" y="392.02" width="6.40" height="6.40" fill="#93b5de" stroke="#93b5de" stroke-width="1.7"/>
<rect x="659.97" y="393.50" width="6.40" height="6.40" fill="#93b5de" stroke="#93b5de" stroke-width="1.7"/>
<line x1="448.70" y1="381.90" x2="448.70" y2="386.34" stroke="#b585d2" stroke-width="1.8" />
<line x1="444.90" y1="381.90" x2="452.50" y2="381.90" stroke="#b585d2" stroke-width="1.8" />
<line x1="444.90" y1="386.34" x2="452.50" y2="386.34" stroke="#b585d2" stroke-width="1.8" />
<line x1="472.53" y1="391.52" x2="472.53" y2="395.96" stroke="#b585d2" stroke-width="1.8" />
<line x1="468.73" y1="391.52" x2="476.33" y2="391.52" stroke="#b585d2" stroke-width="1.8" />
<line x1="468.73" y1="395.96" x2="476.33" y2="395.96" stroke="#b585d2" stroke-width="1.8" />
<line x1="496.36" y1="391.52" x2="496.36" y2="395.96" stroke="#b585d2" stroke-width="1.8" />
<line x1="492.56" y1="391.52" x2="500.16" y2="391.52" stroke="#b585d2" stroke-width="1.8" />
<line x1="492.56" y1="395.96" x2="500.16" y2="395.96" stroke="#b585d2" stroke-width="1.8" />
<line x1="520.19" y1="391.52" x2="520.19" y2="395.96" stroke="#b585d2" stroke-width="1.8" />
<line x1="516.39" y1="391.52" x2="523.99" y2="391.52" stroke="#b585d2" stroke-width="1.8" />
<line x1="516.39" y1="395.96" x2="523.99" y2="395.96" stroke="#b585d2" stroke-width="1.8" />
<line x1="544.02" y1="391.52" x2="544.02" y2="395.96" stroke="#b585d2" stroke-width="1.8" />
<line x1="540.22" y1="391.52" x2="547.82" y2="391.52" stroke="#b585d2" stroke-width="1.8" />
<line x1="540.22" y1="395.96" x2="547.82" y2="395.96" stroke="#b585d2" stroke-width="1.8" />
<line x1="567.85" y1="390.04" x2="567.85" y2="394.48" stroke="#b585d2" stroke-width="1.8" />
<line x1="564.05" y1="390.04" x2="571.65" y2="390.04" stroke="#b585d2" stroke-width="1.8" />
<line x1="564.05" y1="394.48" x2="571.65" y2="394.48" stroke="#b585d2" stroke-width="1.8" />
<line x1="591.68" y1="395.96" x2="591.68" y2="400.40" stroke="#b585d2" stroke-width="1.8" />
<line x1="587.88" y1="395.96" x2="595.48" y2="395.96" stroke="#b585d2" stroke-width="1.8" />
<line x1="587.88" y1="400.40" x2="595.48" y2="400.40" stroke="#b585d2" stroke-width="1.8" />
<line x1="615.51" y1="393.74" x2="615.51" y2="398.18" stroke="#b585d2" stroke-width="1.8" />
<line x1="611.71" y1="393.74" x2="619.31" y2="393.74" stroke="#b585d2" stroke-width="1.8" />
<line x1="611.71" y1="398.18" x2="619.31" y2="398.18" stroke="#b585d2" stroke-width="1.8" />
<line x1="639.34" y1="391.52" x2="639.34" y2="395.96" stroke="#b585d2" stroke-width="1.8" />
<line x1="635.54" y1="391.52" x2="643.14" y2="391.52" stroke="#b585d2" stroke-width="1.8" />
<line x1="635.54" y1="395.96" x2="643.14" y2="395.96" stroke="#b585d2" stroke-width="1.8" />
<line x1="663.17" y1="394.48" x2="663.17" y2="398.92" stroke="#b585d2" stroke-width="1.8" />
<line x1="659.37" y1="394.48" x2="666.97" y2="394.48" stroke="#b585d2" stroke-width="1.8" />
<line x1="659.37" y1="398.92" x2="666.97" y2="398.92" stroke="#b585d2" stroke-width="1.8" />
<polyline points="448.70,384.12 472.53,393.74 496.36,393.74 520.19,393.74 544.02,393.74 567.85,392.26 591.68,398.18 615.51,395.96 639.34,393.74 663.17,396.70" fill="none" stroke="#b585d2" stroke-width="2.0" stroke-linejoin="round"/>
<polygon points="448.70,380.44 452.22,386.88 445.18,386.88" fill="#b585d2" stroke="#b585d2" stroke-width="1.7" stroke-linejoin="miter"/>
<polygon points="472.53,390.06 476.05,396.50 469.01,396.50" fill="#b585d2" stroke="#b585d2" stroke-width="1.7" stroke-linejoin="miter"/>
<polygon points="496.36,390.06 499.88,396.50 492.84,396.50" fill="#b585d2" stroke="#b585d2" stroke-width="1.7" stroke-linejoin="miter"/>
<polygon points="520.19,390.06 523.71,396.50 516.67,396.50" fill="#b585d2" stroke="#b585d2" stroke-width="1.7" stroke-linejoin="miter"/>
<polygon points="544.02,390.06 547.54,396.50 540.50,396.50" fill="#b585d2" stroke="#b585d2" stroke-width="1.7" stroke-linejoin="miter"/>
<polygon points="567.85,388.58 571.37,395.02 564.33,395.02" fill="#b585d2" stroke="#b585d2" stroke-width="1.7" stroke-linejoin="miter"/>
<polygon points="591.68,394.50 595.20,400.94 588.16,400.94" fill="#b585d2" stroke="#b585d2" stroke-width="1.7" stroke-linejoin="miter"/>
<polygon points="615.51,392.28 619.03,398.72 611.99,398.72" fill="#b585d2" stroke="#b585d2" stroke-width="1.7" stroke-linejoin="miter"/>
<polygon points="639.34,390.06 642.86,396.50 635.82,396.50" fill="#b585d2" stroke="#b585d2" stroke-width="1.7" stroke-linejoin="miter"/>
<polygon points="663.17,393.02 666.69,399.46 659.65,399.46" fill="#b585d2" stroke="#b585d2" stroke-width="1.7" stroke-linejoin="miter"/>
<line x1="448.70" y1="384.12" x2="448.70" y2="388.56" stroke="#a6a6a6" stroke-width="1.8" />
<line x1="444.90" y1="384.12" x2="452.50" y2="384.12" stroke="#a6a6a6" stroke-width="1.8" />
<line x1="444.90" y1="388.56" x2="452.50" y2="388.56" stroke="#a6a6a6" stroke-width="1.8" />
<line x1="472.53" y1="391.52" x2="472.53" y2="395.96" stroke="#a6a6a6" stroke-width="1.8" />
<line x1="468.73" y1="391.52" x2="476.33" y2="391.52" stroke="#a6a6a6" stroke-width="1.8" />
<line x1="468.73" y1="395.96" x2="476.33" y2="395.96" stroke="#a6a6a6" stroke-width="1.8" />
<line x1="496.36" y1="391.52" x2="496.36" y2="395.96" stroke="#a6a6a6" stroke-width="1.8" />
<line x1="492.56" y1="391.52" x2="500.16" y2="391.52" stroke="#a6a6a6" stroke-width="1.8" />
<line x1="492.56" y1="395.96" x2="500.16" y2="395.96" stroke="#a6a6a6" stroke-width="1.8" />
<line x1="520.19" y1="393.00" x2="520.19" y2="397.44" stroke="#a6a6a6" stroke-width="1.8" />
<line x1="516.39" y1="393.00" x2="523.99" y2="393.00" stroke="#a6a6a6" stroke-width="1.8" />
<line x1="516.39" y1="397.44" x2="523.99" y2="397.44" stroke="#a6a6a6" stroke-width="1.8" />
<line x1="544.02" y1="391.52" x2="544.02" y2="395.96" stroke="#a6a6a6" stroke-width="1.8" />
<line x1="540.22" y1="391.52" x2="547.82" y2="391.52" stroke="#a6a6a6" stroke-width="1.8" />
<line x1="540.22" y1="395.96" x2="547.82" y2="395.96" stroke="#a6a6a6" stroke-width="1.8" />
<line x1="567.85" y1="390.78" x2="567.85" y2="395.22" stroke="#a6a6a6" stroke-width="1.8" />
<line x1="564.05" y1="390.78" x2="571.65" y2="390.78" stroke="#a6a6a6" stroke-width="1.8" />
<line x1="564.05" y1="395.22" x2="571.65" y2="395.22" stroke="#a6a6a6" stroke-width="1.8" />
<line x1="591.68" y1="397.44" x2="591.68" y2="401.88" stroke="#a6a6a6" stroke-width="1.8" />
<line x1="587.88" y1="397.44" x2="595.48" y2="397.44" stroke="#a6a6a6" stroke-width="1.8" />
<line x1="587.88" y1="401.88" x2="595.48" y2="401.88" stroke="#a6a6a6" stroke-width="1.8" />
<line x1="615.51" y1="393.74" x2="615.51" y2="398.18" stroke="#a6a6a6" stroke-width="1.8" />
<line x1="611.71" y1="393.74" x2="619.31" y2="393.74" stroke="#a6a6a6" stroke-width="1.8" />
<line x1="611.71" y1="398.18" x2="619.31" y2="398.18" stroke="#a6a6a6" stroke-width="1.8" />
<line x1="639.34" y1="393.00" x2="639.34" y2="397.44" stroke="#a6a6a6" stroke-width="1.8" />
<line x1="635.54" y1="393.00" x2="643.14" y2="393.00" stroke="#a6a6a6" stroke-width="1.8" />
<line x1="635.54" y1="397.44" x2="643.14" y2="397.44" stroke="#a6a6a6" stroke-width="1.8" />
<line x1="663.17" y1="393.00" x2="663.17" y2="397.44" stroke="#a6a6a6" stroke-width="1.8" />
<line x1="659.37" y1="393.00" x2="666.97" y2="393.00" stroke="#a6a6a6" stroke-width="1.8" />
<line x1="659.37" y1="397.44" x2="666.97" y2="397.44" stroke="#a6a6a6" stroke-width="1.8" />
<polyline points="448.70,386.34 472.53,393.74 496.36,393.74 520.19,395.22 544.02,393.74 567.85,393.00 591.68,399.66 615.51,395.96 639.34,395.22 663.17,395.22" fill="none" stroke="#a6a6a6" stroke-width="2.0" stroke-linejoin="round"/>
<circle cx="448.70" cy="386.34" r="3.20" fill="#a6a6a6" stroke="#a6a6a6" stroke-width="1.7"/>
<circle cx="472.53" cy="393.74" r="3.20" fill="#a6a6a6" stroke="#a6a6a6" stroke-width="1.7"/>
<circle cx="496.36" cy="393.74" r="3.20" fill="#a6a6a6" stroke="#a6a6a6" stroke-width="1.7"/>
<circle cx="520.19" cy="395.22" r="3.20" fill="#a6a6a6" stroke="#a6a6a6" stroke-width="1.7"/>
<circle cx="544.02" cy="393.74" r="3.20" fill="#a6a6a6" stroke="#a6a6a6" stroke-width="1.7"/>
<circle cx="567.85" cy="393.00" r="3.20" fill="#a6a6a6" stroke="#a6a6a6" stroke-width="1.7"/>
<circle cx="591.68" cy="399.66" r="3.20" fill="#a6a6a6" stroke="#a6a6a6" stroke-width="1.7"/>
<circle cx="615.51" cy="395.96" r="3.20" fill="#a6a6a6" stroke="#a6a6a6" stroke-width="1.7"/>
<circle cx="639.34" cy="395.22" r="3.20" fill="#a6a6a6" stroke="#a6a6a6" stroke-width="1.7"/>
<circle cx="663.17" cy="395.22" r="3.20" fill="#a6a6a6" stroke="#a6a6a6" stroke-width="1.7"/>
<line x1="448.70" y1="327.14" x2="448.70" y2="341.94" stroke="#93b5de" stroke-width="1.8" />
<line x1="444.90" y1="327.14" x2="452.50" y2="327.14" stroke="#93b5de" stroke-width="1.8" />
<line x1="444.90" y1="341.94" x2="452.50" y2="341.94" stroke="#93b5de" stroke-width="1.8" />
<line x1="472.53" y1="348.60" x2="472.53" y2="354.52" stroke="#93b5de" stroke-width="1.8" />
<line x1="468.73" y1="348.60" x2="476.33" y2="348.60" stroke="#93b5de" stroke-width="1.8" />
<line x1="468.73" y1="354.52" x2="476.33" y2="354.52" stroke="#93b5de" stroke-width="1.8" />
<line x1="496.36" y1="360.44" x2="496.36" y2="364.88" stroke="#93b5de" stroke-width="1.8" />
<line x1="492.56" y1="360.44" x2="500.16" y2="360.44" stroke="#93b5de" stroke-width="1.8" />
<line x1="492.56" y1="364.88" x2="500.16" y2="364.88" stroke="#93b5de" stroke-width="1.8" />
<line x1="520.19" y1="364.14" x2="520.19" y2="370.06" stroke="#93b5de" stroke-width="1.8" />
<line x1="516.39" y1="364.14" x2="523.99" y2="364.14" stroke="#93b5de" stroke-width="1.8" />
<line x1="516.39" y1="370.06" x2="523.99" y2="370.06" stroke="#93b5de" stroke-width="1.8" />
<line x1="544.02" y1="376.72" x2="544.02" y2="382.64" stroke="#93b5de" stroke-width="1.8" />
<line x1="540.22" y1="376.72" x2="547.82" y2="376.72" stroke="#93b5de" stroke-width="1.8" />
<line x1="540.22" y1="382.64" x2="547.82" y2="382.64" stroke="#93b5de" stroke-width="1.8" />
<line x1="567.85" y1="364.88" x2="567.85" y2="370.80" stroke="#93b5de" stroke-width="1.8" />
<line x1="564.05" y1="364.88" x2="571.65" y2="364.88" stroke="#93b5de" stroke-width="1.8" />
<line x1="564.05" y1="370.80" x2="571.65" y2="370.80" stroke="#93b5de" stroke-width="1.8" />
<line x1="591.68" y1="384.12" x2="591.68" y2="388.56" stroke="#93b5de" stroke-width="1.8" />
<line x1="587.88" y1="384.12" x2="595.48" y2="384.12" stroke="#93b5de" stroke-width="1.8" />
<line x1="587.88" y1="388.56" x2="595.48" y2="388.56" stroke="#93b5de" stroke-width="1.8" />
<line x1="615.51" y1="376.72" x2="615.51" y2="381.16" stroke="#93b5de" stroke-width="1.8" />
<line x1="611.71" y1="376.72" x2="619.31" y2="376.72" stroke="#93b5de" stroke-width="1.8" />
<line x1="611.71" y1="381.16" x2="619.31" y2="381.16" stroke="#93b5de" stroke-width="1.8" />
<line x1="639.34" y1="376.72" x2="639.34" y2="381.16" stroke="#93b5de" stroke-width="1.8" />
<line x1="635.54" y1="376.72" x2="643.14" y2="376.72" stroke="#93b5de" stroke-width="1.8" />
<line x1="635.54" y1="381.16" x2="643.14" y2="381.16" stroke="#93b5de" stroke-width="1.8" />
<line x1="663.17" y1="395.22" x2="663.17" y2="398.18" stroke="#93b5de" stroke-width="1.8" />
<line x1="659.37" y1="395.22" x2="666.97" y2="395.22" stroke="#93b5de" stroke-width="1.8" />
<line x1="659.37" y1="398.18" x2="666.97" y2="398.18" stroke="#93b5de" stroke-width="1.8" />
<polyline points="448.70,334.54 472.53,351.56 496.36,362.66 520.19,367.10 544.02,379.68 567.85,367.84 591.68,386.34 615.51,378.94 639.34,378.94 663.17,396.70" fill="none" stroke="#93b5de" stroke-width="2.0" stroke-linejoin="round"/>
<rect x="445.50" y="331.34" width="6.40" height="6.40" fill="#fff" stroke="#93b5de" stroke-width="1.7"/>
<rect x="469.33" y="348.36" width="6.40" height="6.40" fill="#fff" stroke="#93b5de" stroke-width="1.7"/>
<rect x="493.16" y="359.46" width="6.40" height="6.40" fill="#fff" stroke="#93b5de" stroke-width="1.7"/>
<rect x="516.99" y="363.90" width="6.40" height="6.40" fill="#fff" stroke="#93b5de" stroke-width="1.7"/>
<rect x="540.82" y="376.48" width="6.40" height="6.40" fill="#fff" stroke="#93b5de" stroke-width="1.7"/>
<rect x="564.65" y="364.64" width="6.40" height="6.40" fill="#fff" stroke="#93b5de" stroke-width="1.7"/>
<rect x="588.48" y="383.14" width="6.40" height="6.40" fill="#fff" stroke="#93b5de" stroke-width="1.7"/>
<rect x="612.31" y="375.74" width="6.40" height="6.40" fill="#fff" stroke="#93b5de" stroke-width="1.7"/>
<rect x="636.14" y="375.74" width="6.40" height="6.40" fill="#fff" stroke="#93b5de" stroke-width="1.7"/>
<rect x="659.97" y="393.50" width="6.40" height="6.40" fill="#fff" stroke="#93b5de" stroke-width="1.7"/>
<line x1="448.70" y1="253.88" x2="448.70" y2="280.52" stroke="#b585d2" stroke-width="1.8" />
<line x1="444.90" y1="253.88" x2="452.50" y2="253.88" stroke="#b585d2" stroke-width="1.8" />
<line x1="444.90" y1="280.52" x2="452.50" y2="280.52" stroke="#b585d2" stroke-width="1.8" />
<line x1="472.53" y1="324.18" x2="472.53" y2="350.82" stroke="#b585d2" stroke-width="1.8" />
<line x1="468.73" y1="324.18" x2="476.33" y2="324.18" stroke="#b585d2" stroke-width="1.8" />
<line x1="468.73" y1="350.82" x2="476.33" y2="350.82" stroke="#b585d2" stroke-width="1.8" />
<line x1="496.36" y1="360.44" x2="496.36" y2="364.88" stroke="#b585d2" stroke-width="1.8" />
<line x1="492.56" y1="360.44" x2="500.16" y2="360.44" stroke="#b585d2" stroke-width="1.8" />
<line x1="492.56" y1="364.88" x2="500.16" y2="364.88" stroke="#b585d2" stroke-width="1.8" />
<line x1="520.19" y1="362.66" x2="520.19" y2="368.58" stroke="#b585d2" stroke-width="1.8" />
<line x1="516.39" y1="362.66" x2="523.99" y2="362.66" stroke="#b585d2" stroke-width="1.8" />
<line x1="516.39" y1="368.58" x2="523.99" y2="368.58" stroke="#b585d2" stroke-width="1.8" />
<line x1="544.02" y1="373.02" x2="544.02" y2="378.94" stroke="#b585d2" stroke-width="1.8" />
<line x1="540.22" y1="373.02" x2="547.82" y2="373.02" stroke="#b585d2" stroke-width="1.8" />
<line x1="540.22" y1="378.94" x2="547.82" y2="378.94" stroke="#b585d2" stroke-width="1.8" />
<line x1="567.85" y1="373.02" x2="567.85" y2="378.94" stroke="#b585d2" stroke-width="1.8" />
<line x1="564.05" y1="373.02" x2="571.65" y2="373.02" stroke="#b585d2" stroke-width="1.8" />
<line x1="564.05" y1="378.94" x2="571.65" y2="378.94" stroke="#b585d2" stroke-width="1.8" />
<line x1="591.68" y1="383.38" x2="591.68" y2="389.30" stroke="#b585d2" stroke-width="1.8" />
<line x1="587.88" y1="383.38" x2="595.48" y2="383.38" stroke="#b585d2" stroke-width="1.8" />
<line x1="587.88" y1="389.30" x2="595.48" y2="389.30" stroke="#b585d2" stroke-width="1.8" />
<line x1="615.51" y1="378.94" x2="615.51" y2="384.86" stroke="#b585d2" stroke-width="1.8" />
<line x1="611.71" y1="378.94" x2="619.31" y2="378.94" stroke="#b585d2" stroke-width="1.8" />
<line x1="611.71" y1="384.86" x2="619.31" y2="384.86" stroke="#b585d2" stroke-width="1.8" />
<line x1="639.34" y1="381.90" x2="639.34" y2="387.82" stroke="#b585d2" stroke-width="1.8" />
<line x1="635.54" y1="381.90" x2="643.14" y2="381.90" stroke="#b585d2" stroke-width="1.8" />
<line x1="635.54" y1="387.82" x2="643.14" y2="387.82" stroke="#b585d2" stroke-width="1.8" />
<line x1="663.17" y1="393.74" x2="663.17" y2="396.70" stroke="#b585d2" stroke-width="1.8" />
<line x1="659.37" y1="393.74" x2="666.97" y2="393.74" stroke="#b585d2" stroke-width="1.8" />
<line x1="659.37" y1="396.70" x2="666.97" y2="396.70" stroke="#b585d2" stroke-width="1.8" />
<polyline points="448.70,267.20 472.53,337.50 496.36,362.66 520.19,365.62 544.02,375.98 567.85,375.98 591.68,386.34 615.51,381.90 639.34,384.86 663.17,395.22" fill="none" stroke="#b585d2" stroke-width="2.0" stroke-linejoin="round"/>
<polygon points="448.70,263.52 452.22,269.96 445.18,269.96" fill="#fff" stroke="#b585d2" stroke-width="1.7" stroke-linejoin="miter"/>
<polygon points="472.53,333.82 476.05,340.26 469.01,340.26" fill="#fff" stroke="#b585d2" stroke-width="1.7" stroke-linejoin="miter"/>
<polygon points="496.36,358.98 499.88,365.42 492.84,365.42" fill="#fff" stroke="#b585d2" stroke-width="1.7" stroke-linejoin="miter"/>
<polygon points="520.19,361.94 523.71,368.38 516.67,368.38" fill="#fff" stroke="#b585d2" stroke-width="1.7" stroke-linejoin="miter"/>
<polygon points="544.02,372.30 547.54,378.74 540.50,378.74" fill="#fff" stroke="#b585d2" stroke-width="1.7" stroke-linejoin="miter"/>
<polygon points="567.85,372.30 571.37,378.74 564.33,378.74" fill="#fff" stroke="#b585d2" stroke-width="1.7" stroke-linejoin="miter"/>
<polygon points="591.68,382.66 595.20,389.10 588.16,389.10" fill="#fff" stroke="#b585d2" stroke-width="1.7" stroke-linejoin="miter"/>
<polygon points="615.51,378.22 619.03,384.66 611.99,384.66" fill="#fff" stroke="#b585d2" stroke-width="1.7" stroke-linejoin="miter"/>
<polygon points="639.34,381.18 642.86,387.62 635.82,387.62" fill="#fff" stroke="#b585d2" stroke-width="1.7" stroke-linejoin="miter"/>
<polygon points="663.17,391.54 666.69,397.98 659.65,397.98" fill="#fff" stroke="#b585d2" stroke-width="1.7" stroke-linejoin="miter"/>
<line x1="448.70" y1="241.60" x2="448.70" y2="275.64" stroke="#a6a6a6" stroke-width="1.8" />
<line x1="444.90" y1="241.60" x2="452.50" y2="241.60" stroke="#a6a6a6" stroke-width="1.8" />
<line x1="444.90" y1="275.64" x2="452.50" y2="275.64" stroke="#a6a6a6" stroke-width="1.8" />
<line x1="472.53" y1="310.12" x2="472.53" y2="336.76" stroke="#a6a6a6" stroke-width="1.8" />
<line x1="468.73" y1="310.12" x2="476.33" y2="310.12" stroke="#a6a6a6" stroke-width="1.8" />
<line x1="468.73" y1="336.76" x2="476.33" y2="336.76" stroke="#a6a6a6" stroke-width="1.8" />
<line x1="496.36" y1="369.02" x2="496.36" y2="372.58" stroke="#a6a6a6" stroke-width="1.8" />
<line x1="492.56" y1="369.02" x2="500.16" y2="369.02" stroke="#a6a6a6" stroke-width="1.8" />
<line x1="492.56" y1="372.58" x2="500.16" y2="372.58" stroke="#a6a6a6" stroke-width="1.8" />
<line x1="520.19" y1="369.32" x2="520.19" y2="376.72" stroke="#a6a6a6" stroke-width="1.8" />
<line x1="516.39" y1="369.32" x2="523.99" y2="369.32" stroke="#a6a6a6" stroke-width="1.8" />
<line x1="516.39" y1="376.72" x2="523.99" y2="376.72" stroke="#a6a6a6" stroke-width="1.8" />
<line x1="544.02" y1="367.84" x2="544.02" y2="378.20" stroke="#a6a6a6" stroke-width="1.8" />
<line x1="540.22" y1="367.84" x2="547.82" y2="367.84" stroke="#a6a6a6" stroke-width="1.8" />
<line x1="540.22" y1="378.20" x2="547.82" y2="378.20" stroke="#a6a6a6" stroke-width="1.8" />
<line x1="567.85" y1="367.84" x2="567.85" y2="375.24" stroke="#a6a6a6" stroke-width="1.8" />
<line x1="564.05" y1="367.84" x2="571.65" y2="367.84" stroke="#a6a6a6" stroke-width="1.8" />
<line x1="564.05" y1="375.24" x2="571.65" y2="375.24" stroke="#a6a6a6" stroke-width="1.8" />
<line x1="591.68" y1="380.42" x2="591.68" y2="386.34" stroke="#a6a6a6" stroke-width="1.8" />
<line x1="587.88" y1="380.42" x2="595.48" y2="380.42" stroke="#a6a6a6" stroke-width="1.8" />
<line x1="587.88" y1="386.34" x2="595.48" y2="386.34" stroke="#a6a6a6" stroke-width="1.8" />
<line x1="615.51" y1="374.50" x2="615.51" y2="380.42" stroke="#a6a6a6" stroke-width="1.8" />
<line x1="611.71" y1="374.50" x2="619.31" y2="374.50" stroke="#a6a6a6" stroke-width="1.8" />
<line x1="611.71" y1="380.42" x2="619.31" y2="380.42" stroke="#a6a6a6" stroke-width="1.8" />
<line x1="639.34" y1="384.86" x2="639.34" y2="390.78" stroke="#a6a6a6" stroke-width="1.8" />
<line x1="635.54" y1="384.86" x2="643.14" y2="384.86" stroke="#a6a6a6" stroke-width="1.8" />
<line x1="635.54" y1="390.78" x2="643.14" y2="390.78" stroke="#a6a6a6" stroke-width="1.8" />
<line x1="663.17" y1="390.78" x2="663.17" y2="393.74" stroke="#a6a6a6" stroke-width="1.8" />
<line x1="659.37" y1="390.78" x2="666.97" y2="390.78" stroke="#a6a6a6" stroke-width="1.8" />
<line x1="659.37" y1="393.74" x2="666.97" y2="393.74" stroke="#a6a6a6" stroke-width="1.8" />
<polyline points="448.70,258.62 472.53,323.44 496.36,370.80 520.19,373.02 544.02,373.02 567.85,371.54 591.68,383.38 615.51,377.46 639.34,387.82 663.17,392.26" fill="none" stroke="#a6a6a6" stroke-width="2.0" stroke-linejoin="round"/>
<circle cx="448.70" cy="258.62" r="3.20" fill="#fff" stroke="#a6a6a6" stroke-width="1.7"/>
<circle cx="472.53" cy="323.44" r="3.20" fill="#fff" stroke="#a6a6a6" stroke-width="1.7"/>
<circle cx="496.36" cy="370.80" r="3.20" fill="#fff" stroke="#a6a6a6" stroke-width="1.7"/>
<circle cx="520.19" cy="373.02" r="3.20" fill="#fff" stroke="#a6a6a6" stroke-width="1.7"/>
<circle cx="544.02" cy="373.02" r="3.20" fill="#fff" stroke="#a6a6a6" stroke-width="1.7"/>
<circle cx="567.85" cy="371.54" r="3.20" fill="#fff" stroke="#a6a6a6" stroke-width="1.7"/>
<circle cx="591.68" cy="383.38" r="3.20" fill="#fff" stroke="#a6a6a6" stroke-width="1.7"/>
<circle cx="615.51" cy="377.46" r="3.20" fill="#fff" stroke="#a6a6a6" stroke-width="1.7"/>
<circle cx="639.34" cy="387.82" r="3.20" fill="#fff" stroke="#a6a6a6" stroke-width="1.7"/>
<circle cx="663.17" cy="392.26" r="3.20" fill="#fff" stroke="#a6a6a6" stroke-width="1.7"/>
<line x1="558.30" y1="218.20" x2="578.60" y2="218.20" stroke="#a6a6a6" stroke-width="1.8" />
<circle cx="568.40" cy="218.20" r="2.50" fill="#fff" stroke="#a6a6a6" stroke-width="1.4"/>
<text x="588.00" y="221.40" font-size="9" font-weight="normal" text-anchor="start" fill="#1e1e1e" stroke="#1e1e1e" stroke-width="0.12">Active VEH</text>
<line x1="558.30" y1="229.60" x2="578.60" y2="229.60" stroke="#b585d2" stroke-width="1.8" />
<polygon points="568.40,226.72 571.15,231.76 565.65,231.76" fill="#fff" stroke="#b585d2" stroke-width="1.4" stroke-linejoin="miter"/>
<text x="588.00" y="232.80" font-size="9" font-weight="normal" text-anchor="start" fill="#1e1e1e" stroke="#1e1e1e" stroke-width="0.12">Active NAC 10 mg/kg</text>
<line x1="558.30" y1="240.90" x2="578.60" y2="240.90" stroke="#93b5de" stroke-width="1.8" />
<rect x="565.90" y="238.40" width="5.00" height="5.00" fill="#fff" stroke="#93b5de" stroke-width="1.4"/>
<text x="588.00" y="244.10" font-size="9" font-weight="normal" text-anchor="start" fill="#1e1e1e" stroke="#1e1e1e" stroke-width="0.12">Active NAC 100 mg/kg</text>
<line x1="558.30" y1="250.70" x2="578.60" y2="250.70" stroke="#a6a6a6" stroke-width="1.8" />
<circle cx="568.40" cy="250.70" r="2.50" fill="#a6a6a6" stroke="#a6a6a6" stroke-width="1.4"/>
<text x="588.00" y="253.90" font-size="9" font-weight="normal" text-anchor="start" fill="#1e1e1e" stroke="#1e1e1e" stroke-width="0.12">Inactive VEH</text>
<line x1="558.30" y1="261.60" x2="578.60" y2="261.60" stroke="#93b5de" stroke-width="1.8" />
<rect x="565.90" y="259.10" width="5.00" height="5.00" fill="#93b5de" stroke="#93b5de" stroke-width="1.4"/>
<text x="588.00" y="264.80" font-size="9" font-weight="normal" text-anchor="start" fill="#1e1e1e" stroke="#1e1e1e" stroke-width="0.12">Inactive NAC 10 mg/kg</text>
<line x1="558.30" y1="272.60" x2="578.60" y2="272.60" stroke="#b585d2" stroke-width="1.8" />
<polygon points="568.40,269.73 571.15,274.76 565.65,274.76" fill="#b585d2" stroke="#b585d2" stroke-width="1.4" stroke-linejoin="miter"/>
<text x="588.00" y="275.80" font-size="9" font-weight="normal" text-anchor="start" fill="#1e1e1e" stroke="#1e1e1e" stroke-width="0.12">Inactive NAC 100 mg/kg</text>
<text x="7.00" y="458.00" font-size="32.5" font-weight="bold" text-anchor="start" fill="#000" >D</text>
<text x="224.00" y="462.40" font-size="16.6" font-weight="normal" text-anchor="start" fill="#000" textLength="256" lengthAdjust="spacingAndGlyphs">Cue-induced Reinstatement Test</text>
<line x1="56.00" y1="491.80" x2="56.00" y2="672.50" stroke="#000" stroke-width="2.2" />
<line x1="48.00" y1="671.50" x2="56.00" y2="671.50" stroke="#000" stroke-width="1.8" />
<text x="46.50" y="676.90" font-size="13.9" font-weight="bold" text-anchor="end" fill="#000" stroke="#000" stroke-width="0.2">0</text>
<line x1="48.00" y1="641.55" x2="56.00" y2="641.55" stroke="#000" stroke-width="1.8" />
<text x="46.50" y="646.95" font-size="13.9" font-weight="bold" text-anchor="end" fill="#000" stroke="#000" stroke-width="0.2">20</text>
<line x1="48.00" y1="611.60" x2="56.00" y2="611.60" stroke="#000" stroke-width="1.8" />
<text x="46.50" y="617.00" font-size="13.9" font-weight="bold" text-anchor="end" fill="#000" stroke="#000" stroke-width="0.2">40</text>
<line x1="48.00" y1="581.65" x2="56.00" y2="581.65" stroke="#000" stroke-width="1.8" />
<text x="46.50" y="587.05" font-size="13.9" font-weight="bold" text-anchor="end" fill="#000" stroke="#000" stroke-width="0.2">60</text>
<line x1="48.00" y1="551.70" x2="56.00" y2="551.70" stroke="#000" stroke-width="1.8" />
<text x="46.50" y="557.10" font-size="13.9" font-weight="bold" text-anchor="end" fill="#000" stroke="#000" stroke-width="0.2">80</text>
<line x1="48.00" y1="521.75" x2="56.00" y2="521.75" stroke="#000" stroke-width="1.8" />
<text x="46.50" y="527.15" font-size="13.9" font-weight="bold" text-anchor="end" fill="#000" stroke="#000" stroke-width="0.2">100</text>
<line x1="48.00" y1="491.80" x2="56.00" y2="491.80" stroke="#000" stroke-width="1.8" />
<text x="46.50" y="497.20" font-size="13.9" font-weight="bold" text-anchor="end" fill="#000" stroke="#000" stroke-width="0.2">120</text>
<line x1="48.00" y1="671.50" x2="283.80" y2="671.50" stroke="#000" stroke-width="2.2" />
<text x="0.00" y="0.00" font-size="14.0" font-weight="bold" text-anchor="middle" fill="#000" transform="translate(15.0,581.6) rotate(-90)" textLength="144.4" lengthAdjust="spacingAndGlyphs">Active nosepokes (1 h)</text>
<rect x="67.8" y="495.4" width="16.8" height="4.2" fill="#d6d6d6" stroke="#cfcfcf" stroke-width="0.6"/>
<text x="94.30" y="500.40" font-size="9.8" font-weight="normal" text-anchor="start" fill="#1e1e1e" stroke="#1e1e1e" stroke-width="0.15">VEH</text>
<rect x="67.8" y="508.5" width="16.8" height="4.2" fill="#ab7fc9" stroke="#9f70c0" stroke-width="0.6"/>
<text x="94.30" y="513.50" font-size="9.8" font-weight="normal" text-anchor="start" fill="#1e1e1e" stroke="#1e1e1e" stroke-width="0.15">NAC 10 mg/kg</text>
<rect x="67.8" y="522.2" width="16.8" height="4.2" fill="#8fb0d7" stroke="#85a7d0" stroke-width="0.6"/>
<text x="94.30" y="527.20" font-size="9.8" font-weight="normal" text-anchor="start" fill="#1e1e1e" stroke="#1e1e1e" stroke-width="0.15">NAC 100 mg/kg</text>
<rect x="66.60" y="657.50" width="22.20" height="14.00" fill="#dcdcdc"/>
<rect x="99.10" y="660.10" width="21.50" height="11.40" fill="#ba90d2"/>
<rect x="131.80" y="660.40" width="21.90" height="11.10" fill="#9fbde0"/>
<rect x="186.00" y="588.70" width="22.10" height="82.80" fill="#dcdcdc"/>
<rect x="218.70" y="583.20" width="22.10" height="88.30" fill="#ba90d2"/>
<rect x="251.20" y="630.90" width="22.10" height="40.60" fill="#9fbde0"/>
<line x1="48.00" y1="671.50" x2="283.80" y2="671.50" stroke="#000" stroke-width="2.2" />
<line x1="77.70" y1="657.50" x2="77.70" y2="655.20" stroke="#000" stroke-width="2.0" />
<line x1="71.95" y1="655.20" x2="83.45" y2="655.20" stroke="#000" stroke-width="2.3" />
<circle cx="74.60" cy="651.40" r="2.90" fill="#fff" stroke="#000" stroke-width="1.25"/>
<circle cx="80.40" cy="654.60" r="2.90" fill="#fff" stroke="#000" stroke-width="1.25"/>
<circle cx="86.00" cy="653.40" r="2.90" fill="#fff" stroke="#000" stroke-width="1.25"/>
<circle cx="69.00" cy="656.00" r="2.90" fill="#fff" stroke="#000" stroke-width="1.25"/>
<circle cx="74.60" cy="660.40" r="2.90" fill="#fff" stroke="#000" stroke-width="1.25"/>
<circle cx="80.40" cy="662.60" r="2.90" fill="#fff" stroke="#000" stroke-width="1.25"/>
<circle cx="86.00" cy="660.90" r="2.90" fill="#fff" stroke="#000" stroke-width="1.25"/>
<circle cx="69.50" cy="665.50" r="2.90" fill="#fff" stroke="#000" stroke-width="1.25"/>
<line x1="109.85" y1="660.10" x2="109.85" y2="655.00" stroke="#000" stroke-width="2.0" />
<line x1="104.10" y1="655.00" x2="115.60" y2="655.00" stroke="#000" stroke-width="2.3" />
<polygon points="102.00,647.89 104.97,653.33 99.03,653.33" fill="#fff" stroke="#000" stroke-width="1.25" stroke-linejoin="miter"/>
<polygon points="118.40,648.89 121.37,654.33 115.43,654.33" fill="#fff" stroke="#000" stroke-width="1.25" stroke-linejoin="miter"/>
<polygon points="107.00,652.19 109.97,657.63 104.03,657.63" fill="#fff" stroke="#000" stroke-width="1.25" stroke-linejoin="miter"/>
<polygon points="112.60,651.50 115.57,656.93 109.63,656.93" fill="#fff" stroke="#000" stroke-width="1.25" stroke-linejoin="miter"/>
<polygon points="110.40,655.10 113.37,660.53 107.43,660.53" fill="#fff" stroke="#000" stroke-width="1.25" stroke-linejoin="miter"/>
<polygon points="102.00,659.50 104.97,664.93 99.03,664.93" fill="#fff" stroke="#000" stroke-width="1.25" stroke-linejoin="miter"/>
<polygon points="112.80,658.50 115.77,663.93 109.83,663.93" fill="#fff" stroke="#000" stroke-width="1.25" stroke-linejoin="miter"/>
<polygon points="102.00,666.60 104.97,672.03 99.03,672.03" fill="#fff" stroke="#000" stroke-width="1.25" stroke-linejoin="miter"/>
<polygon points="112.80,665.69 115.77,671.13 109.83,671.13" fill="#fff" stroke="#000" stroke-width="1.25" stroke-linejoin="miter"/>
<polygon points="118.40,663.89 121.37,669.33 115.43,669.33" fill="#fff" stroke="#000" stroke-width="1.25" stroke-linejoin="miter"/>
<line x1="142.75" y1="660.40" x2="142.75" y2="657.50" stroke="#000" stroke-width="2.0" />
<line x1="137.00" y1="657.50" x2="148.50" y2="657.50" stroke="#000" stroke-width="2.3" />
<rect x="137.30" y="647.50" width="5.40" height="5.40" fill="#fff" stroke="#000" stroke-width="1.25"/>
<rect x="143.10" y="647.50" width="5.40" height="5.40" fill="#fff" stroke="#000" stroke-width="1.25"/>
<rect x="148.50" y="647.50" width="5.40" height="5.40" fill="#fff" stroke="#000" stroke-width="1.25"/>
<rect x="131.80" y="651.90" width="5.40" height="5.40" fill="#fff" stroke="#000" stroke-width="1.25"/>
<rect x="143.10" y="657.70" width="5.40" height="5.40" fill="#fff" stroke="#000" stroke-width="1.25"/>
<rect x="131.80" y="662.80" width="5.40" height="5.40" fill="#fff" stroke="#000" stroke-width="1.25"/>
<rect x="131.80" y="667.10" width="5.40" height="5.40" fill="#fff" stroke="#000" stroke-width="1.25"/>
<rect x="142.00" y="667.10" width="5.40" height="5.40" fill="#fff" stroke="#000" stroke-width="1.25"/>
<rect x="148.50" y="666.20" width="5.40" height="5.40" fill="#fff" stroke="#000" stroke-width="1.25"/>
<line x1="197.05" y1="588.70" x2="197.05" y2="576.50" stroke="#000" stroke-width="2.0" />
<line x1="191.30" y1="576.50" x2="202.80" y2="576.50" stroke="#000" stroke-width="2.3" />
<circle cx="197.10" cy="544.10" r="2.90" fill="#fff" stroke="#000" stroke-width="1.25"/>
<circle cx="191.60" cy="551.30" r="2.90" fill="#fff" stroke="#000" stroke-width="1.25"/>
<circle cx="202.60" cy="551.30" r="2.90" fill="#fff" stroke="#000" stroke-width="1.25"/>
<circle cx="197.10" cy="598.20" r="2.90" fill="#fff" stroke="#000" stroke-width="1.25"/>
<circle cx="197.10" cy="604.10" r="2.90" fill="#fff" stroke="#000" stroke-width="1.25"/>
<circle cx="197.10" cy="611.90" r="2.90" fill="#fff" stroke="#000" stroke-width="1.25"/>
<circle cx="202.60" cy="622.00" r="2.90" fill="#fff" stroke="#000" stroke-width="1.25"/>
<circle cx="191.60" cy="626.50" r="2.90" fill="#fff" stroke="#000" stroke-width="1.25"/>
<line x1="229.75" y1="583.20" x2="229.75" y2="571.70" stroke="#000" stroke-width="2.0" />
<line x1="224.00" y1="571.70" x2="235.50" y2="571.70" stroke="#000" stroke-width="2.3" />
<polygon points="229.80,516.19 232.77,521.63 226.83,521.63" fill="#fff" stroke="#000" stroke-width="1.25" stroke-linejoin="miter"/>
<polygon points="229.80,547.60 232.77,553.03 226.83,553.03" fill="#fff" stroke="#000" stroke-width="1.25" stroke-linejoin="miter"/>
<polygon points="229.80,556.00 232.77,561.43 226.83,561.43" fill="#fff" stroke="#000" stroke-width="1.25" stroke-linejoin="miter"/>
<polygon points="229.80,571.39 232.77,576.83 226.83,576.83" fill="#fff" stroke="#000" stroke-width="1.25" stroke-linejoin="miter"/>
<polygon points="224.00,597.89 226.97,603.33 221.03,603.33" fill="#fff" stroke="#000" stroke-width="1.25" stroke-linejoin="miter"/>
<polygon points="235.10,597.89 238.07,603.33 232.13,603.33" fill="#fff" stroke="#000" stroke-width="1.25" stroke-linejoin="miter"/>
<polygon points="224.00,608.79 226.97,614.23 221.03,614.23" fill="#fff" stroke="#000" stroke-width="1.25" stroke-linejoin="miter"/>
<polygon points="235.10,611.60 238.07,617.03 232.13,617.03" fill="#fff" stroke="#000" stroke-width="1.25" stroke-linejoin="miter"/>
<polygon points="229.80,617.60 232.77,623.03 226.83,623.03" fill="#fff" stroke="#000" stroke-width="1.25" stroke-linejoin="miter"/>
<line x1="262.25" y1="630.90" x2="262.25" y2="623.60" stroke="#000" stroke-width="2.0" />
<line x1="256.50" y1="623.60" x2="268.00" y2="623.60" stroke="#000" stroke-width="2.3" />
<rect x="259.60" y="577.10" width="5.40" height="5.40" fill="#fff" stroke="#000" stroke-width="1.25"/>
<rect x="259.60" y="612.70" width="5.40" height="5.40" fill="#fff" stroke="#000" stroke-width="1.25"/>
<rect x="259.60" y="620.90" width="5.40" height="5.40" fill="#fff" stroke="#000" stroke-width="1.25"/>
<rect x="251.40" y="629.70" width="5.40" height="5.40" fill="#fff" stroke="#000" stroke-width="1.25"/>
<rect x="259.60" y="634.60" width="5.40" height="5.40" fill="#fff" stroke="#000" stroke-width="1.25"/>
<rect x="251.40" y="640.30" width="5.40" height="5.40" fill="#fff" stroke="#000" stroke-width="1.25"/>
<rect x="259.60" y="641.90" width="5.40" height="5.40" fill="#fff" stroke="#000" stroke-width="1.25"/>
<rect x="267.70" y="645.20" width="5.40" height="5.40" fill="#fff" stroke="#000" stroke-width="1.25"/>
<rect x="251.40" y="649.20" width="5.40" height="5.40" fill="#fff" stroke="#000" stroke-width="1.25"/>
<line x1="110.00" y1="671.50" x2="110.00" y2="678.70" stroke="#000" stroke-width="1.8" />
<text x="110.15" y="690.00" font-size="11.0" font-weight="bold" text-anchor="middle" fill="#000" textLength="67.1" lengthAdjust="spacingAndGlyphs" stroke="#000" stroke-width="0.25">Last Ext Day</text>
<line x1="229.80" y1="671.50" x2="229.80" y2="678.70" stroke="#000" stroke-width="1.8" />
<text x="229.50" y="690.00" font-size="11.0" font-weight="bold" text-anchor="middle" fill="#000" textLength="81.5" lengthAdjust="spacingAndGlyphs" stroke="#000" stroke-width="0.25">Cue Reinst Day</text>
<path d="M225.55,487.80 L225.55,479.80 M222.09,485.80 L229.01,481.80 M229.01,485.80 L222.09,481.80 " stroke="#000" stroke-width="1.9" stroke-linecap="butt" fill="none"/>
<path d="M233.95,487.80 L233.95,479.80 M230.49,485.80 L237.41,481.80 M237.41,485.80 L230.49,481.80 " stroke="#000" stroke-width="1.9" stroke-linecap="butt" fill="none"/>
<line x1="196.40" y1="492.20" x2="262.80" y2="492.20" stroke="#000" stroke-width="1.9" />
<path d="M236.90,499.67 L243.40,499.67 M236.60,501.98 L243.10,501.98 M239.48,496.90 L238.48,504.60 M241.95,496.90 L240.95,504.60 " stroke="#111" stroke-width="1.05" fill="none"/>
<path d="M242.90,499.67 L249.40,499.67 M242.60,501.98 L249.10,501.98 M245.48,496.90 L244.48,504.60 M247.95,496.90 L246.95,504.60 " stroke="#111" stroke-width="1.05" fill="none"/>
<path d="M248.90,499.67 L255.40,499.67 M248.60,501.98 L255.10,501.98 M251.48,496.90 L250.48,504.60 M253.95,496.90 L252.95,504.60 " stroke="#111" stroke-width="1.05" fill="none"/>
<line x1="229.20" y1="513.50" x2="262.80" y2="513.50" stroke="#000" stroke-width="1.9" />
<line x1="423.30" y1="492.30" x2="423.30" y2="672.40" stroke="#000" stroke-width="2.2" />
<line x1="415.30" y1="671.40" x2="423.30" y2="671.40" stroke="#000" stroke-width="1.8" />
<text x="413.80" y="676.80" font-size="13.9" font-weight="bold" text-anchor="end" fill="#000" stroke="#000" stroke-width="0.2">0</text>
<line x1="415.30" y1="641.55" x2="423.30" y2="641.55" stroke="#000" stroke-width="1.8" />
<text x="413.80" y="646.95" font-size="13.9" font-weight="bold" text-anchor="end" fill="#000" stroke="#000" stroke-width="0.2">20</text>
<line x1="415.30" y1="611.70" x2="423.30" y2="611.70" stroke="#000" stroke-width="1.8" />
<text x="413.80" y="617.10" font-size="13.9" font-weight="bold" text-anchor="end" fill="#000" stroke="#000" stroke-width="0.2">40</text>
<line x1="415.30" y1="581.85" x2="423.30" y2="581.85" stroke="#000" stroke-width="1.8" />
<text x="413.80" y="587.25" font-size="13.9" font-weight="bold" text-anchor="end" fill="#000" stroke="#000" stroke-width="0.2">60</text>
<line x1="415.30" y1="552.00" x2="423.30" y2="552.00" stroke="#000" stroke-width="1.8" />
<text x="413.80" y="557.40" font-size="13.9" font-weight="bold" text-anchor="end" fill="#000" stroke="#000" stroke-width="0.2">80</text>
<line x1="415.30" y1="522.15" x2="423.30" y2="522.15" stroke="#000" stroke-width="1.8" />
<text x="413.80" y="527.55" font-size="13.9" font-weight="bold" text-anchor="end" fill="#000" stroke="#000" stroke-width="0.2">100</text>
<line x1="415.30" y1="492.30" x2="423.30" y2="492.30" stroke="#000" stroke-width="1.8" />
<text x="413.80" y="497.70" font-size="13.9" font-weight="bold" text-anchor="end" fill="#000" stroke="#000" stroke-width="0.2">120</text>
<line x1="415.30" y1="671.40" x2="667.00" y2="671.40" stroke="#000" stroke-width="2.2" />
<text x="0.00" y="0.00" font-size="14.0" font-weight="bold" text-anchor="middle" fill="#000" transform="translate(381.0,582) rotate(-90)" textLength="152.4" lengthAdjust="spacingAndGlyphs">Inactive nosepokes (1 h)</text>
<rect x="436.00" y="662.10" width="22.80" height="9.30" fill="#dcdcdc"/>
<rect x="470.00" y="664.30" width="24.00" height="7.10" fill="#ba90d2"/>
<rect x="504.80" y="666.40" width="23.50" height="5.00" fill="#9fbde0"/>
<rect x="562.90" y="656.20" width="23.10" height="15.20" fill="#dcdcdc"/>
<rect x="597.20" y="660.70" width="23.50" height="10.70" fill="#ba90d2"/>
<rect x="632.00" y="657.60" width="23.50" height="13.80" fill="#9fbde0"/>
<line x1="415.30" y1="671.40" x2="667.00" y2="671.40" stroke="#000" stroke-width="2.2" />
<line x1="447.40" y1="662.10" x2="447.40" y2="659.50" stroke="#000" stroke-width="2.0" />
<line x1="441.65" y1="659.50" x2="453.15" y2="659.50" stroke="#000" stroke-width="2.3" />
<circle cx="438.40" cy="657.60" r="2.90" fill="#fff" stroke="#000" stroke-width="1.25"/>
<circle cx="444.50" cy="660.50" r="2.90" fill="#fff" stroke="#000" stroke-width="1.25"/>
<circle cx="450.50" cy="659.80" r="2.90" fill="#fff" stroke="#000" stroke-width="1.25"/>
<circle cx="456.40" cy="656.20" r="2.90" fill="#fff" stroke="#000" stroke-width="1.25"/>
<circle cx="447.60" cy="664.70" r="2.90" fill="#fff" stroke="#000" stroke-width="1.25"/>
<circle cx="452.70" cy="667.80" r="2.90" fill="#fff" stroke="#000" stroke-width="1.25"/>
<circle cx="442.90" cy="669.30" r="2.90" fill="#fff" stroke="#000" stroke-width="1.25"/>
<circle cx="450.00" cy="669.20" r="2.90" fill="#fff" stroke="#000" stroke-width="1.25"/>
<line x1="482.00" y1="664.30" x2="482.00" y2="661.00" stroke="#000" stroke-width="2.0" />
<line x1="476.25" y1="661.00" x2="487.75" y2="661.00" stroke="#000" stroke-width="2.3" />
<polygon points="477.40,654.10 480.37,659.53 474.43,659.53" fill="#fff" stroke="#000" stroke-width="1.25" stroke-linejoin="miter"/>
<polygon points="483.30,653.19 486.27,658.63 480.33,658.63" fill="#fff" stroke="#000" stroke-width="1.25" stroke-linejoin="miter"/>
<polygon points="489.00,654.39 491.97,659.83 486.03,659.83" fill="#fff" stroke="#000" stroke-width="1.25" stroke-linejoin="miter"/>
<polygon points="473.50,657.89 476.47,663.33 470.53,663.33" fill="#fff" stroke="#000" stroke-width="1.25" stroke-linejoin="miter"/>
<polygon points="480.30,658.50 483.27,663.93 477.33,663.93" fill="#fff" stroke="#000" stroke-width="1.25" stroke-linejoin="miter"/>
<polygon points="487.00,660.10 489.97,665.53 484.03,665.53" fill="#fff" stroke="#000" stroke-width="1.25" stroke-linejoin="miter"/>
<polygon points="493.00,658.10 495.97,663.53 490.03,663.53" fill="#fff" stroke="#000" stroke-width="1.25" stroke-linejoin="miter"/>
<polygon points="475.00,664.89 477.97,670.33 472.03,670.33" fill="#fff" stroke="#000" stroke-width="1.25" stroke-linejoin="miter"/>
<polygon points="482.50,664.39 485.47,669.83 479.53,669.83" fill="#fff" stroke="#000" stroke-width="1.25" stroke-linejoin="miter"/>
<polygon points="490.50,665.39 493.47,670.83 487.53,670.83" fill="#fff" stroke="#000" stroke-width="1.25" stroke-linejoin="miter"/>
<line x1="516.55" y1="666.40" x2="516.55" y2="663.50" stroke="#000" stroke-width="2.0" />
<line x1="510.80" y1="663.50" x2="522.30" y2="663.50" stroke="#000" stroke-width="2.3" />
<rect x="508.90" y="652.80" width="5.40" height="5.40" fill="#fff" stroke="#000" stroke-width="1.25"/>
<rect x="505.60" y="657.90" width="5.40" height="5.40" fill="#fff" stroke="#000" stroke-width="1.25"/>
<rect x="511.70" y="657.90" width="5.40" height="5.40" fill="#fff" stroke="#000" stroke-width="1.25"/>
<rect x="508.90" y="661.80" width="5.40" height="5.40" fill="#fff" stroke="#000" stroke-width="1.25"/>
<rect x="515.00" y="662.20" width="5.40" height="5.40" fill="#fff" stroke="#000" stroke-width="1.25"/>
<rect x="521.60" y="662.20" width="5.40" height="5.40" fill="#fff" stroke="#000" stroke-width="1.25"/>
<rect x="505.60" y="666.50" width="5.40" height="5.40" fill="#fff" stroke="#000" stroke-width="1.25"/>
<rect x="511.70" y="666.50" width="5.40" height="5.40" fill="#fff" stroke="#000" stroke-width="1.25"/>
<rect x="518.50" y="666.50" width="5.40" height="5.40" fill="#fff" stroke="#000" stroke-width="1.25"/>
<line x1="574.45" y1="656.20" x2="574.45" y2="655.50" stroke="#000" stroke-width="2.0" />
<line x1="568.70" y1="655.50" x2="580.20" y2="655.50" stroke="#000" stroke-width="2.3" />
<circle cx="565.50" cy="649.00" r="2.90" fill="#fff" stroke="#000" stroke-width="1.25"/>
<circle cx="574.30" cy="649.00" r="2.90" fill="#fff" stroke="#000" stroke-width="1.25"/>
<circle cx="582.90" cy="650.40" r="2.90" fill="#fff" stroke="#000" stroke-width="1.25"/>
<circle cx="565.50" cy="656.20" r="2.90" fill="#fff" stroke="#000" stroke-width="1.25"/>
<circle cx="582.90" cy="660.70" r="2.90" fill="#fff" stroke="#000" stroke-width="1.25"/>
<circle cx="574.30" cy="665.20" r="2.90" fill="#fff" stroke="#000" stroke-width="1.25"/>
<circle cx="565.50" cy="668.30" r="2.90" fill="#fff" stroke="#000" stroke-width="1.25"/>
<circle cx="582.90" cy="668.30" r="2.90" fill="#fff" stroke="#000" stroke-width="1.25"/>
<line x1="608.95" y1="660.70" x2="608.95" y2="658.50" stroke="#000" stroke-width="2.0" />
<line x1="603.20" y1="658.50" x2="614.70" y2="658.50" stroke="#000" stroke-width="2.3" />
<polygon points="608.80,648.39 611.77,653.83 605.83,653.83" fill="#fff" stroke="#000" stroke-width="1.25" stroke-linejoin="miter"/>
<polygon points="604.50,652.39 607.47,657.83 601.53,657.83" fill="#fff" stroke="#000" stroke-width="1.25" stroke-linejoin="miter"/>
<polygon points="612.70,652.39 615.67,657.83 609.73,657.83" fill="#fff" stroke="#000" stroke-width="1.25" stroke-linejoin="miter"/>
<polygon points="608.80,655.39 611.77,660.83 605.83,660.83" fill="#fff" stroke="#000" stroke-width="1.25" stroke-linejoin="miter"/>
<polygon points="616.50,655.39 619.47,660.83 613.53,660.83" fill="#fff" stroke="#000" stroke-width="1.25" stroke-linejoin="miter"/>
<polygon points="600.50,664.39 603.47,669.83 597.53,669.83" fill="#fff" stroke="#000" stroke-width="1.25" stroke-linejoin="miter"/>
<polygon points="605.50,663.89 608.47,669.33 602.53,669.33" fill="#fff" stroke="#000" stroke-width="1.25" stroke-linejoin="miter"/>
<polygon points="611.20,664.39 614.17,669.83 608.23,669.83" fill="#fff" stroke="#000" stroke-width="1.25" stroke-linejoin="miter"/>
<polygon points="617.20,664.39 620.17,669.83 614.23,669.83" fill="#fff" stroke="#000" stroke-width="1.25" stroke-linejoin="miter"/>
<line x1="643.75" y1="657.60" x2="643.75" y2="655.50" stroke="#000" stroke-width="2.0" />
<line x1="638.00" y1="655.50" x2="649.50" y2="655.50" stroke="#000" stroke-width="2.3" />
<rect x="631.70" y="645.70" width="5.40" height="5.40" fill="#fff" stroke="#000" stroke-width="1.25"/>
<rect x="637.50" y="645.70" width="5.40" height="5.40" fill="#fff" stroke="#000" stroke-width="1.25"/>
<rect x="645.20" y="645.70" width="5.40" height="5.40" fill="#fff" stroke="#000" stroke-width="1.25"/>
<rect x="631.70" y="650.20" width="5.40" height="5.40" fill="#fff" stroke="#000" stroke-width="1.25"/>
<rect x="641.50" y="650.20" width="5.40" height="5.40" fill="#fff" stroke="#000" stroke-width="1.25"/>
<rect x="649.30" y="650.20" width="5.40" height="5.40" fill="#fff" stroke="#000" stroke-width="1.25"/>
<rect x="637.50" y="659.00" width="5.40" height="5.40" fill="#fff" stroke="#000" stroke-width="1.25"/>
<rect x="645.20" y="659.00" width="5.40" height="5.40" fill="#fff" stroke="#000" stroke-width="1.25"/>
<rect x="641.50" y="663.10" width="5.40" height="5.40" fill="#fff" stroke="#000" stroke-width="1.25"/>
<rect x="641.50" y="668.80" width="5.40" height="5.40" fill="#fff" stroke="#000" stroke-width="1.25"/>
<line x1="481.60" y1="671.40" x2="481.60" y2="678.60" stroke="#000" stroke-width="1.8" />
<text x="482.40" y="690.00" font-size="11.0" font-weight="bold" text-anchor="middle" fill="#000" textLength="71.4" lengthAdjust="spacingAndGlyphs" stroke="#000" stroke-width="0.25">Last Ext Day</text>
<line x1="608.90" y1="671.40" x2="608.90" y2="678.60" stroke="#000" stroke-width="1.8" />
<text x="608.90" y="690.00" font-size="11.0" font-weight="bold" text-anchor="middle" fill="#000" textLength="88.2" lengthAdjust="spacingAndGlyphs" stroke="#000" stroke-width="0.25">Cue Reinst Day</text>
<text x="6.10" y="715.90" font-size="32.5" font-weight="bold" text-anchor="start" fill="#000" >E</text>
<text x="224.50" y="718.30" font-size="16.6" font-weight="normal" text-anchor="start" fill="#000" textLength="261.5" lengthAdjust="spacingAndGlyphs">Drug-induced Reinstatement Test</text>
<line x1="55.20" y1="751.00" x2="55.20" y2="928.00" stroke="#000" stroke-width="2.2" />
<line x1="47.20" y1="927.00" x2="55.20" y2="927.00" stroke="#000" stroke-width="1.8" />
<text x="45.70" y="932.40" font-size="13.9" font-weight="bold" text-anchor="end" fill="#000" stroke="#000" stroke-width="0.2">0</text>
<line x1="47.20" y1="897.67" x2="55.20" y2="897.67" stroke="#000" stroke-width="1.8" />
<text x="45.70" y="903.07" font-size="13.9" font-weight="bold" text-anchor="end" fill="#000" stroke="#000" stroke-width="0.2">20</text>
<line x1="47.20" y1="868.33" x2="55.20" y2="868.33" stroke="#000" stroke-width="1.8" />
<text x="45.70" y="873.74" font-size="13.9" font-weight="bold" text-anchor="end" fill="#000" stroke="#000" stroke-width="0.2">40</text>
<line x1="47.20" y1="839.00" x2="55.20" y2="839.00" stroke="#000" stroke-width="1.8" />
<text x="45.70" y="844.40" font-size="13.9" font-weight="bold" text-anchor="end" fill="#000" stroke="#000" stroke-width="0.2">60</text>
<line x1="47.20" y1="809.67" x2="55.20" y2="809.67" stroke="#000" stroke-width="1.8" />
<text x="45.70" y="815.07" font-size="13.9" font-weight="bold" text-anchor="end" fill="#000" stroke="#000" stroke-width="0.2">80</text>
<line x1="47.20" y1="780.33" x2="55.20" y2="780.33" stroke="#000" stroke-width="1.8" />
<text x="45.70" y="785.74" font-size="13.9" font-weight="bold" text-anchor="end" fill="#000" stroke="#000" stroke-width="0.2">100</text>
<line x1="47.20" y1="751.00" x2="55.20" y2="751.00" stroke="#000" stroke-width="1.8" />
<text x="45.70" y="756.40" font-size="13.9" font-weight="bold" text-anchor="end" fill="#000" stroke="#000" stroke-width="0.2">120</text>
<line x1="47.20" y1="927.00" x2="295.40" y2="927.00" stroke="#000" stroke-width="2.2" />
<text x="0.00" y="0.00" font-size="14.3" font-weight="bold" text-anchor="middle" fill="#000" transform="translate(12.6,839.5) rotate(-90)" textLength="140" lengthAdjust="spacingAndGlyphs">Active nosepokes (1 h)</text>
<rect x="66.8" y="726.2" width="16.8" height="4.2" fill="#d6d6d6" stroke="#cfcfcf" stroke-width="0.6"/>
<text x="93.30" y="731.20" font-size="9.8" font-weight="normal" text-anchor="start" fill="#1e1e1e" stroke="#1e1e1e" stroke-width="0.15">VEH</text>
<rect x="66.8" y="738.2" width="16.8" height="4.2" fill="#ab7fc9" stroke="#9f70c0" stroke-width="0.6"/>
<text x="93.30" y="743.20" font-size="9.8" font-weight="normal" text-anchor="start" fill="#1e1e1e" stroke="#1e1e1e" stroke-width="0.15">NAC 10 mg/kg</text>
<rect x="66.8" y="750.8" width="16.8" height="4.2" fill="#8fb0d7" stroke="#85a7d0" stroke-width="0.6"/>
<text x="93.30" y="755.80" font-size="9.8" font-weight="normal" text-anchor="start" fill="#1e1e1e" stroke="#1e1e1e" stroke-width="0.15">NAC 100 mg/kg</text>
<rect x="66.20" y="912.00" width="23.10" height="15.00" fill="#dcdcdc"/>
<rect x="101.00" y="911.30" width="22.90" height="15.70" fill="#ba90d2"/>
<rect x="135.40" y="917.50" width="22.60" height="9.50" fill="#9fbde0"/>
<rect x="192.20" y="827.60" width="23.70" height="99.40" fill="#dcdcdc"/>
<rect x="226.60" y="831.60" width="23.30" height="95.40" fill="#ba90d2"/>
<rect x="261.60" y="877.10" width="22.70" height="49.90" fill="#9fbde0"/>
<line x1="47.20" y1="927.00" x2="295.40" y2="927.00" stroke="#000" stroke-width="2.2" />
<line x1="77.75" y1="912.00" x2="77.75" y2="909.30" stroke="#000" stroke-width="2.0" />
<line x1="72.00" y1="909.30" x2="83.50" y2="909.30" stroke="#000" stroke-width="2.3" />
<circle cx="77.70" cy="893.10" r="2.90" fill="#fff" stroke="#000" stroke-width="1.25"/>
<circle cx="75.10" cy="906.40" r="2.90" fill="#fff" stroke="#000" stroke-width="1.25"/>
<circle cx="81.00" cy="910.80" r="2.90" fill="#fff" stroke="#000" stroke-width="1.25"/>
<circle cx="75.10" cy="912.60" r="2.90" fill="#fff" stroke="#000" stroke-width="1.25"/>
<circle cx="68.80" cy="919.70" r="2.90" fill="#fff" stroke="#000" stroke-width="1.25"/>
<circle cx="75.10" cy="918.20" r="2.90" fill="#fff" stroke="#000" stroke-width="1.25"/>
<circle cx="81.00" cy="919.70" r="2.90" fill="#fff" stroke="#000" stroke-width="1.25"/>
<circle cx="86.60" cy="918.20" r="2.90" fill="#fff" stroke="#000" stroke-width="1.25"/>
<line x1="112.45" y1="911.30" x2="112.45" y2="909.30" stroke="#000" stroke-width="2.0" />
<line x1="106.70" y1="909.30" x2="118.20" y2="909.30" stroke="#000" stroke-width="2.3" />
<polygon points="112.10,890.00 115.07,895.43 109.13,895.43" fill="#fff" stroke="#000" stroke-width="1.25" stroke-linejoin="miter"/>
<polygon points="104.30,907.69 107.27,913.13 101.33,913.13" fill="#fff" stroke="#000" stroke-width="1.25" stroke-linejoin="miter"/>
<polygon points="111.40,903.79 114.37,909.23 108.43,909.23" fill="#fff" stroke="#000" stroke-width="1.25" stroke-linejoin="miter"/>
<polygon points="106.60,908.89 109.57,914.33 103.63,914.33" fill="#fff" stroke="#000" stroke-width="1.25" stroke-linejoin="miter"/>
<polygon points="117.70,908.89 120.67,914.33 114.73,914.33" fill="#fff" stroke="#000" stroke-width="1.25" stroke-linejoin="miter"/>
<polygon points="111.40,913.29 114.37,918.73 108.43,918.73" fill="#fff" stroke="#000" stroke-width="1.25" stroke-linejoin="miter"/>
<polygon points="116.50,913.29 119.47,918.73 113.53,918.73" fill="#fff" stroke="#000" stroke-width="1.25" stroke-linejoin="miter"/>
<polygon points="122.10,911.10 125.07,916.53 119.13,916.53" fill="#fff" stroke="#000" stroke-width="1.25" stroke-linejoin="miter"/>
<polygon points="111.40,919.89 114.37,925.33 108.43,925.33" fill="#fff" stroke="#000" stroke-width="1.25" stroke-linejoin="miter"/>
<line x1="146.70" y1="917.50" x2="146.70" y2="914.50" stroke="#000" stroke-width="2.0" />
<line x1="140.95" y1="914.50" x2="152.45" y2="914.50" stroke="#000" stroke-width="2.3" />
<rect x="134.90" y="910.80" width="5.40" height="5.40" fill="#fff" stroke="#000" stroke-width="1.25"/>
<rect x="141.10" y="907.00" width="5.40" height="5.40" fill="#fff" stroke="#000" stroke-width="1.25"/>
<rect x="146.50" y="907.00" width="5.40" height="5.40" fill="#fff" stroke="#000" stroke-width="1.25"/>
<rect x="152.20" y="912.60" width="5.40" height="5.40" fill="#fff" stroke="#000" stroke-width="1.25"/>
<rect x="141.10" y="913.70" width="5.40" height="5.40" fill="#fff" stroke="#000" stroke-width="1.25"/>
<rect x="146.50" y="913.70" width="5.40" height="5.40" fill="#fff" stroke="#000" stroke-width="1.25"/>
<rect x="138.30" y="920.60" width="5.40" height="5.40" fill="#fff" stroke="#000" stroke-width="1.25"/>
<rect x="143.80" y="920.60" width="5.40" height="5.40" fill="#fff" stroke="#000" stroke-width="1.25"/>
<rect x="149.30" y="920.60" width="5.40" height="5.40" fill="#fff" stroke="#000" stroke-width="1.25"/>
<line x1="204.05" y1="827.60" x2="204.05" y2="812.80" stroke="#000" stroke-width="2.0" />
<line x1="198.30" y1="812.80" x2="209.80" y2="812.80" stroke="#000" stroke-width="2.3" />
<circle cx="204.00" cy="758.20" r="2.90" fill="#fff" stroke="#000" stroke-width="1.25"/>
<circle cx="204.00" cy="775.90" r="2.90" fill="#fff" stroke="#000" stroke-width="1.25"/>
<circle cx="204.00" cy="821.00" r="2.90" fill="#fff" stroke="#000" stroke-width="1.25"/>
<circle cx="204.00" cy="827.20" r="2.90" fill="#fff" stroke="#000" stroke-width="1.25"/>
<circle cx="204.00" cy="841.60" r="2.90" fill="#fff" stroke="#000" stroke-width="1.25"/>
<circle cx="204.00" cy="847.60" r="2.90" fill="#fff" stroke="#000" stroke-width="1.25"/>
<circle cx="204.00" cy="865.30" r="2.90" fill="#fff" stroke="#000" stroke-width="1.25"/>
<circle cx="204.00" cy="883.10" r="2.90" fill="#fff" stroke="#000" stroke-width="1.25"/>
<line x1="238.25" y1="831.60" x2="238.25" y2="821.60" stroke="#000" stroke-width="2.0" />
<line x1="232.50" y1="821.60" x2="244.00" y2="821.60" stroke="#000" stroke-width="2.3" />
<polygon points="238.10,770.19 241.07,775.63 235.13,775.63" fill="#fff" stroke="#000" stroke-width="1.25" stroke-linejoin="miter"/>
<polygon points="238.10,808.29 241.07,813.73 235.13,813.73" fill="#fff" stroke="#000" stroke-width="1.25" stroke-linejoin="miter"/>
<polygon points="238.10,819.00 241.07,824.43 235.13,824.43" fill="#fff" stroke="#000" stroke-width="1.25" stroke-linejoin="miter"/>
<polygon points="229.30,825.19 232.27,830.63 226.33,830.63" fill="#fff" stroke="#000" stroke-width="1.25" stroke-linejoin="miter"/>
<polygon points="247.00,827.39 249.97,832.83 244.03,832.83" fill="#fff" stroke="#000" stroke-width="1.25" stroke-linejoin="miter"/>
<polygon points="238.10,829.00 241.07,834.43 235.13,834.43" fill="#fff" stroke="#000" stroke-width="1.25" stroke-linejoin="miter"/>
<polygon points="247.00,847.79 249.97,853.23 244.03,853.23" fill="#fff" stroke="#000" stroke-width="1.25" stroke-linejoin="miter"/>
<polygon points="238.10,852.19 241.07,857.63 235.13,857.63" fill="#fff" stroke="#000" stroke-width="1.25" stroke-linejoin="miter"/>
<polygon points="238.10,880.60 241.07,886.03 235.13,886.03" fill="#fff" stroke="#000" stroke-width="1.25" stroke-linejoin="miter"/>
<line x1="272.95" y1="877.10" x2="272.95" y2="869.10" stroke="#000" stroke-width="2.0" />
<line x1="267.20" y1="869.10" x2="278.70" y2="869.10" stroke="#000" stroke-width="2.3" />
<rect x="270.00" y="832.20" width="5.40" height="5.40" fill="#fff" stroke="#000" stroke-width="1.25"/>
<rect x="270.00" y="846.70" width="5.40" height="5.40" fill="#fff" stroke="#000" stroke-width="1.25"/>
<rect x="270.00" y="866.00" width="5.40" height="5.40" fill="#fff" stroke="#000" stroke-width="1.25"/>
<rect x="264.30" y="878.80" width="5.40" height="5.40" fill="#fff" stroke="#000" stroke-width="1.25"/>
<rect x="276.00" y="876.40" width="5.40" height="5.40" fill="#fff" stroke="#000" stroke-width="1.25"/>
<rect x="264.30" y="888.10" width="5.40" height="5.40" fill="#fff" stroke="#000" stroke-width="1.25"/>
<rect x="276.00" y="883.70" width="5.40" height="5.40" fill="#fff" stroke="#000" stroke-width="1.25"/>
<rect x="276.00" y="890.80" width="5.40" height="5.40" fill="#fff" stroke="#000" stroke-width="1.25"/>
<rect x="270.00" y="907.00" width="5.40" height="5.40" fill="#fff" stroke="#000" stroke-width="1.25"/>
<line x1="112.10" y1="927.00" x2="112.10" y2="934.20" stroke="#000" stroke-width="1.8" />
<text x="111.90" y="945.20" font-size="11.0" font-weight="bold" text-anchor="middle" fill="#000" textLength="70.9" lengthAdjust="spacingAndGlyphs" stroke="#000" stroke-width="0.25">Last Ext Day</text>
<line x1="238.10" y1="927.00" x2="238.10" y2="934.20" stroke="#000" stroke-width="1.8" />
<text x="238.00" y="945.20" font-size="11.0" font-weight="bold" text-anchor="middle" fill="#000" textLength="91.9" lengthAdjust="spacingAndGlyphs" stroke="#000" stroke-width="0.25">Drug Reinst Day</text>
<path d="M230.15,737.80 L230.15,729.80 M226.69,735.80 L233.61,731.80 M233.61,735.80 L226.69,731.80 " stroke="#000" stroke-width="1.9" stroke-linecap="butt" fill="none"/>
<path d="M238.55,737.80 L238.55,729.80 M235.09,735.80 L242.01,731.80 M242.01,735.80 L235.09,731.80 " stroke="#000" stroke-width="1.9" stroke-linecap="butt" fill="none"/>
<path d="M246.95,737.80 L246.95,729.80 M243.49,735.80 L250.41,731.80 M250.41,735.80 L243.49,731.80 " stroke="#000" stroke-width="1.9" stroke-linecap="butt" fill="none"/>
<line x1="203.30" y1="746.80" x2="273.60" y2="746.80" stroke="#000" stroke-width="1.9" />
<path d="M246.50,755.77 L253.00,755.77 M246.20,758.08 L252.70,758.08 M249.08,753.00 L248.08,760.70 M251.55,753.00 L250.55,760.70 " stroke="#111" stroke-width="1.05" fill="none"/>
<path d="M252.50,755.77 L259.00,755.77 M252.20,758.08 L258.70,758.08 M255.08,753.00 L254.08,760.70 M257.55,753.00 L256.55,760.70 " stroke="#111" stroke-width="1.05" fill="none"/>
<path d="M258.50,755.77 L265.00,755.77 M258.20,758.08 L264.70,758.08 M261.08,753.00 L260.08,760.70 M263.55,753.00 L262.55,760.70 " stroke="#111" stroke-width="1.05" fill="none"/>
<line x1="237.60" y1="765.60" x2="273.60" y2="765.60" stroke="#000" stroke-width="1.9" />
<line x1="426.00" y1="735.40" x2="426.00" y2="928.30" stroke="#000" stroke-width="2.2" />
<line x1="418.00" y1="927.30" x2="426.00" y2="927.30" stroke="#000" stroke-width="1.8" />
<text x="416.50" y="932.70" font-size="13.9" font-weight="bold" text-anchor="end" fill="#000" stroke="#000" stroke-width="0.2">0</text>
<line x1="418.00" y1="895.32" x2="426.00" y2="895.32" stroke="#000" stroke-width="1.8" />
<text x="416.50" y="900.72" font-size="13.9" font-weight="bold" text-anchor="end" fill="#000" stroke="#000" stroke-width="0.2">20</text>
<line x1="418.00" y1="863.33" x2="426.00" y2="863.33" stroke="#000" stroke-width="1.8" />
<text x="416.50" y="868.74" font-size="13.9" font-weight="bold" text-anchor="end" fill="#000" stroke="#000" stroke-width="0.2">40</text>
<line x1="418.00" y1="831.35" x2="426.00" y2="831.35" stroke="#000" stroke-width="1.8" />
<text x="416.50" y="836.75" font-size="13.9" font-weight="bold" text-anchor="end" fill="#000" stroke="#000" stroke-width="0.2">60</text>
<line x1="418.00" y1="799.37" x2="426.00" y2="799.37" stroke="#000" stroke-width="1.8" />
<text x="416.50" y="804.77" font-size="13.9" font-weight="bold" text-anchor="end" fill="#000" stroke="#000" stroke-width="0.2">80</text>
<line x1="418.00" y1="767.38" x2="426.00" y2="767.38" stroke="#000" stroke-width="1.8" />
<text x="416.50" y="772.79" font-size="13.9" font-weight="bold" text-anchor="end" fill="#000" stroke="#000" stroke-width="0.2">100</text>
<line x1="418.00" y1="735.40" x2="426.00" y2="735.40" stroke="#000" stroke-width="1.8" />
<text x="416.50" y="740.80" font-size="13.9" font-weight="bold" text-anchor="end" fill="#000" stroke="#000" stroke-width="0.2">120</text>
<line x1="418.00" y1="927.30" x2="675.40" y2="927.30" stroke="#000" stroke-width="2.2" />
<text x="0.00" y="0.00" font-size="14.3" font-weight="bold" text-anchor="middle" fill="#000" transform="translate(381,832.2) rotate(-90)" textLength="162.3" lengthAdjust="spacingAndGlyphs">Inactive nosepokes (1 h)</text>
<rect x="438.40" y="913.70" width="24.10" height="13.60" fill="#dcdcdc"/>
<rect x="473.50" y="913.70" width="24.60" height="13.60" fill="#ba90d2"/>
<rect x="509.50" y="916.00" width="23.90" height="11.30" fill="#9fbde0"/>
<rect x="568.50" y="915.20" width="23.90" height="12.10" fill="#dcdcdc"/>
<rect x="604.30" y="912.70" width="23.50" height="14.60" fill="#ba90d2"/>
<rect x="640.00" y="916.80" width="23.50" height="10.50" fill="#9fbde0"/>
<line x1="418.00" y1="927.30" x2="675.40" y2="927.30" stroke="#000" stroke-width="2.2" />
<line x1="450.45" y1="913.70" x2="450.45" y2="911.50" stroke="#000" stroke-width="2.0" />
<line x1="444.70" y1="911.50" x2="456.20" y2="911.50" stroke="#000" stroke-width="2.3" />
<circle cx="441.50" cy="908.20" r="2.90" fill="#fff" stroke="#000" stroke-width="1.25"/>
<circle cx="447.60" cy="904.50" r="2.90" fill="#fff" stroke="#000" stroke-width="1.25"/>
<circle cx="447.60" cy="911.10" r="2.90" fill="#fff" stroke="#000" stroke-width="1.25"/>
<circle cx="453.70" cy="910.20" r="2.90" fill="#fff" stroke="#000" stroke-width="1.25"/>
<circle cx="459.20" cy="910.20" r="2.90" fill="#fff" stroke="#000" stroke-width="1.25"/>
<circle cx="450.70" cy="918.80" r="2.90" fill="#fff" stroke="#000" stroke-width="1.25"/>
<circle cx="456.40" cy="918.80" r="2.90" fill="#fff" stroke="#000" stroke-width="1.25"/>
<circle cx="444.50" cy="923.90" r="2.90" fill="#fff" stroke="#000" stroke-width="1.25"/>
<line x1="485.80" y1="913.70" x2="485.80" y2="910.50" stroke="#000" stroke-width="2.0" />
<line x1="480.05" y1="910.50" x2="491.55" y2="910.50" stroke="#000" stroke-width="2.3" />
<polygon points="485.40,889.19 488.37,894.63 482.43,894.63" fill="#fff" stroke="#000" stroke-width="1.25" stroke-linejoin="miter"/>
<polygon points="488.50,902.39 491.47,907.83 485.53,907.83" fill="#fff" stroke="#000" stroke-width="1.25" stroke-linejoin="miter"/>
<polygon points="482.30,907.10 485.27,912.53 479.33,912.53" fill="#fff" stroke="#000" stroke-width="1.25" stroke-linejoin="miter"/>
<polygon points="488.50,912.10 491.47,917.53 485.53,917.53" fill="#fff" stroke="#000" stroke-width="1.25" stroke-linejoin="miter"/>
<polygon points="476.80,913.69 479.77,919.13 473.83,919.13" fill="#fff" stroke="#000" stroke-width="1.25" stroke-linejoin="miter"/>
<polygon points="482.30,916.79 485.27,922.23 479.33,922.23" fill="#fff" stroke="#000" stroke-width="1.25" stroke-linejoin="miter"/>
<polygon points="494.60,916.79 497.57,922.23 491.63,922.23" fill="#fff" stroke="#000" stroke-width="1.25" stroke-linejoin="miter"/>
<polygon points="488.50,918.79 491.47,924.23 485.53,924.23" fill="#fff" stroke="#000" stroke-width="1.25" stroke-linejoin="miter"/>
<polygon points="476.80,919.79 479.77,925.23 473.83,925.23" fill="#fff" stroke="#000" stroke-width="1.25" stroke-linejoin="miter"/>
<line x1="521.45" y1="916.00" x2="521.45" y2="912.00" stroke="#000" stroke-width="2.0" />
<line x1="515.70" y1="912.00" x2="527.20" y2="912.00" stroke="#000" stroke-width="2.3" />
<rect x="518.50" y="892.60" width="5.40" height="5.40" fill="#fff" stroke="#000" stroke-width="1.25"/>
<rect x="512.30" y="910.40" width="5.40" height="5.40" fill="#fff" stroke="#000" stroke-width="1.25"/>
<rect x="523.60" y="908.40" width="5.40" height="5.40" fill="#fff" stroke="#000" stroke-width="1.25"/>
<rect x="509.70" y="914.10" width="5.40" height="5.40" fill="#fff" stroke="#000" stroke-width="1.25"/>
<rect x="517.40" y="914.10" width="5.40" height="5.40" fill="#fff" stroke="#000" stroke-width="1.25"/>
<rect x="528.70" y="914.10" width="5.40" height="5.40" fill="#fff" stroke="#000" stroke-width="1.25"/>
<rect x="523.60" y="915.10" width="5.40" height="5.40" fill="#fff" stroke="#000" stroke-width="1.25"/>
<rect x="512.90" y="920.20" width="5.40" height="5.40" fill="#fff" stroke="#000" stroke-width="1.25"/>
<line x1="580.45" y1="915.20" x2="580.45" y2="911.70" stroke="#000" stroke-width="2.0" />
<line x1="574.70" y1="911.70" x2="586.20" y2="911.70" stroke="#000" stroke-width="2.3" />
<circle cx="571.60" cy="906.60" r="2.90" fill="#fff" stroke="#000" stroke-width="1.25"/>
<circle cx="580.80" cy="902.90" r="2.90" fill="#fff" stroke="#000" stroke-width="1.25"/>
<circle cx="589.60" cy="906.60" r="2.90" fill="#fff" stroke="#000" stroke-width="1.25"/>
<circle cx="589.60" cy="913.70" r="2.90" fill="#fff" stroke="#000" stroke-width="1.25"/>
<circle cx="580.80" cy="918.80" r="2.90" fill="#fff" stroke="#000" stroke-width="1.25"/>
<circle cx="571.60" cy="918.80" r="2.90" fill="#fff" stroke="#000" stroke-width="1.25"/>
<circle cx="589.60" cy="922.90" r="2.90" fill="#fff" stroke="#000" stroke-width="1.25"/>
<circle cx="571.60" cy="926.00" r="2.90" fill="#fff" stroke="#000" stroke-width="1.25"/>
<line x1="616.05" y1="912.70" x2="616.05" y2="910.00" stroke="#000" stroke-width="2.0" />
<line x1="610.30" y1="910.00" x2="621.80" y2="910.00" stroke="#000" stroke-width="2.3" />
<polygon points="607.30,905.50 610.27,910.93 604.33,910.93" fill="#fff" stroke="#000" stroke-width="1.25" stroke-linejoin="miter"/>
<polygon points="613.50,902.39 616.47,907.83 610.53,907.83" fill="#fff" stroke="#000" stroke-width="1.25" stroke-linejoin="miter"/>
<polygon points="619.00,902.39 621.97,907.83 616.03,907.83" fill="#fff" stroke="#000" stroke-width="1.25" stroke-linejoin="miter"/>
<polygon points="625.20,903.50 628.17,908.93 622.23,908.93" fill="#fff" stroke="#000" stroke-width="1.25" stroke-linejoin="miter"/>
<polygon points="613.50,907.10 616.47,912.53 610.53,912.53" fill="#fff" stroke="#000" stroke-width="1.25" stroke-linejoin="miter"/>
<polygon points="607.30,912.10 610.27,917.53 604.33,917.53" fill="#fff" stroke="#000" stroke-width="1.25" stroke-linejoin="miter"/>
<polygon points="613.50,913.69 616.47,919.13 610.53,919.13" fill="#fff" stroke="#000" stroke-width="1.25" stroke-linejoin="miter"/>
<polygon points="619.00,908.60 621.97,914.03 616.03,914.03" fill="#fff" stroke="#000" stroke-width="1.25" stroke-linejoin="miter"/>
<polygon points="619.00,919.79 621.97,925.23 616.03,925.23" fill="#fff" stroke="#000" stroke-width="1.25" stroke-linejoin="miter"/>
<polygon points="613.50,924.89 616.47,930.33 610.53,930.33" fill="#fff" stroke="#000" stroke-width="1.25" stroke-linejoin="miter"/>
<line x1="651.75" y1="916.80" x2="651.75" y2="913.00" stroke="#000" stroke-width="2.0" />
<line x1="646.00" y1="913.00" x2="657.50" y2="913.00" stroke="#000" stroke-width="2.3" />
<rect x="645.50" y="900.20" width="5.40" height="5.40" fill="#fff" stroke="#000" stroke-width="1.25"/>
<rect x="651.60" y="900.20" width="5.40" height="5.40" fill="#fff" stroke="#000" stroke-width="1.25"/>
<rect x="651.60" y="906.90" width="5.40" height="5.40" fill="#fff" stroke="#000" stroke-width="1.25"/>
<rect x="645.50" y="910.00" width="5.40" height="5.40" fill="#fff" stroke="#000" stroke-width="1.25"/>
<rect x="640.00" y="913.70" width="5.40" height="5.40" fill="#fff" stroke="#000" stroke-width="1.25"/>
<rect x="651.60" y="913.70" width="5.40" height="5.40" fill="#fff" stroke="#000" stroke-width="1.25"/>
<rect x="657.80" y="911.60" width="5.40" height="5.40" fill="#fff" stroke="#000" stroke-width="1.25"/>
<rect x="645.50" y="920.60" width="5.40" height="5.40" fill="#fff" stroke="#000" stroke-width="1.25"/>
<rect x="651.60" y="920.60" width="5.40" height="5.40" fill="#fff" stroke="#000" stroke-width="1.25"/>
<line x1="485.80" y1="927.30" x2="485.80" y2="934.50" stroke="#000" stroke-width="1.8" />
<text x="485.50" y="945.20" font-size="11.0" font-weight="bold" text-anchor="middle" fill="#000" textLength="72.3" lengthAdjust="spacingAndGlyphs" stroke="#000" stroke-width="0.25">Last Ext Day</text>
<line x1="616.10" y1="927.30" x2="616.10" y2="934.50" stroke="#000" stroke-width="1.8" />
<text x="615.70" y="945.20" font-size="11.0" font-weight="bold" text-anchor="middle" fill="#000" textLength="94.4" lengthAdjust="spacingAndGlyphs" stroke="#000" stroke-width="0.25">Drug Reinst Day</text>
</svg>
</body></html>
